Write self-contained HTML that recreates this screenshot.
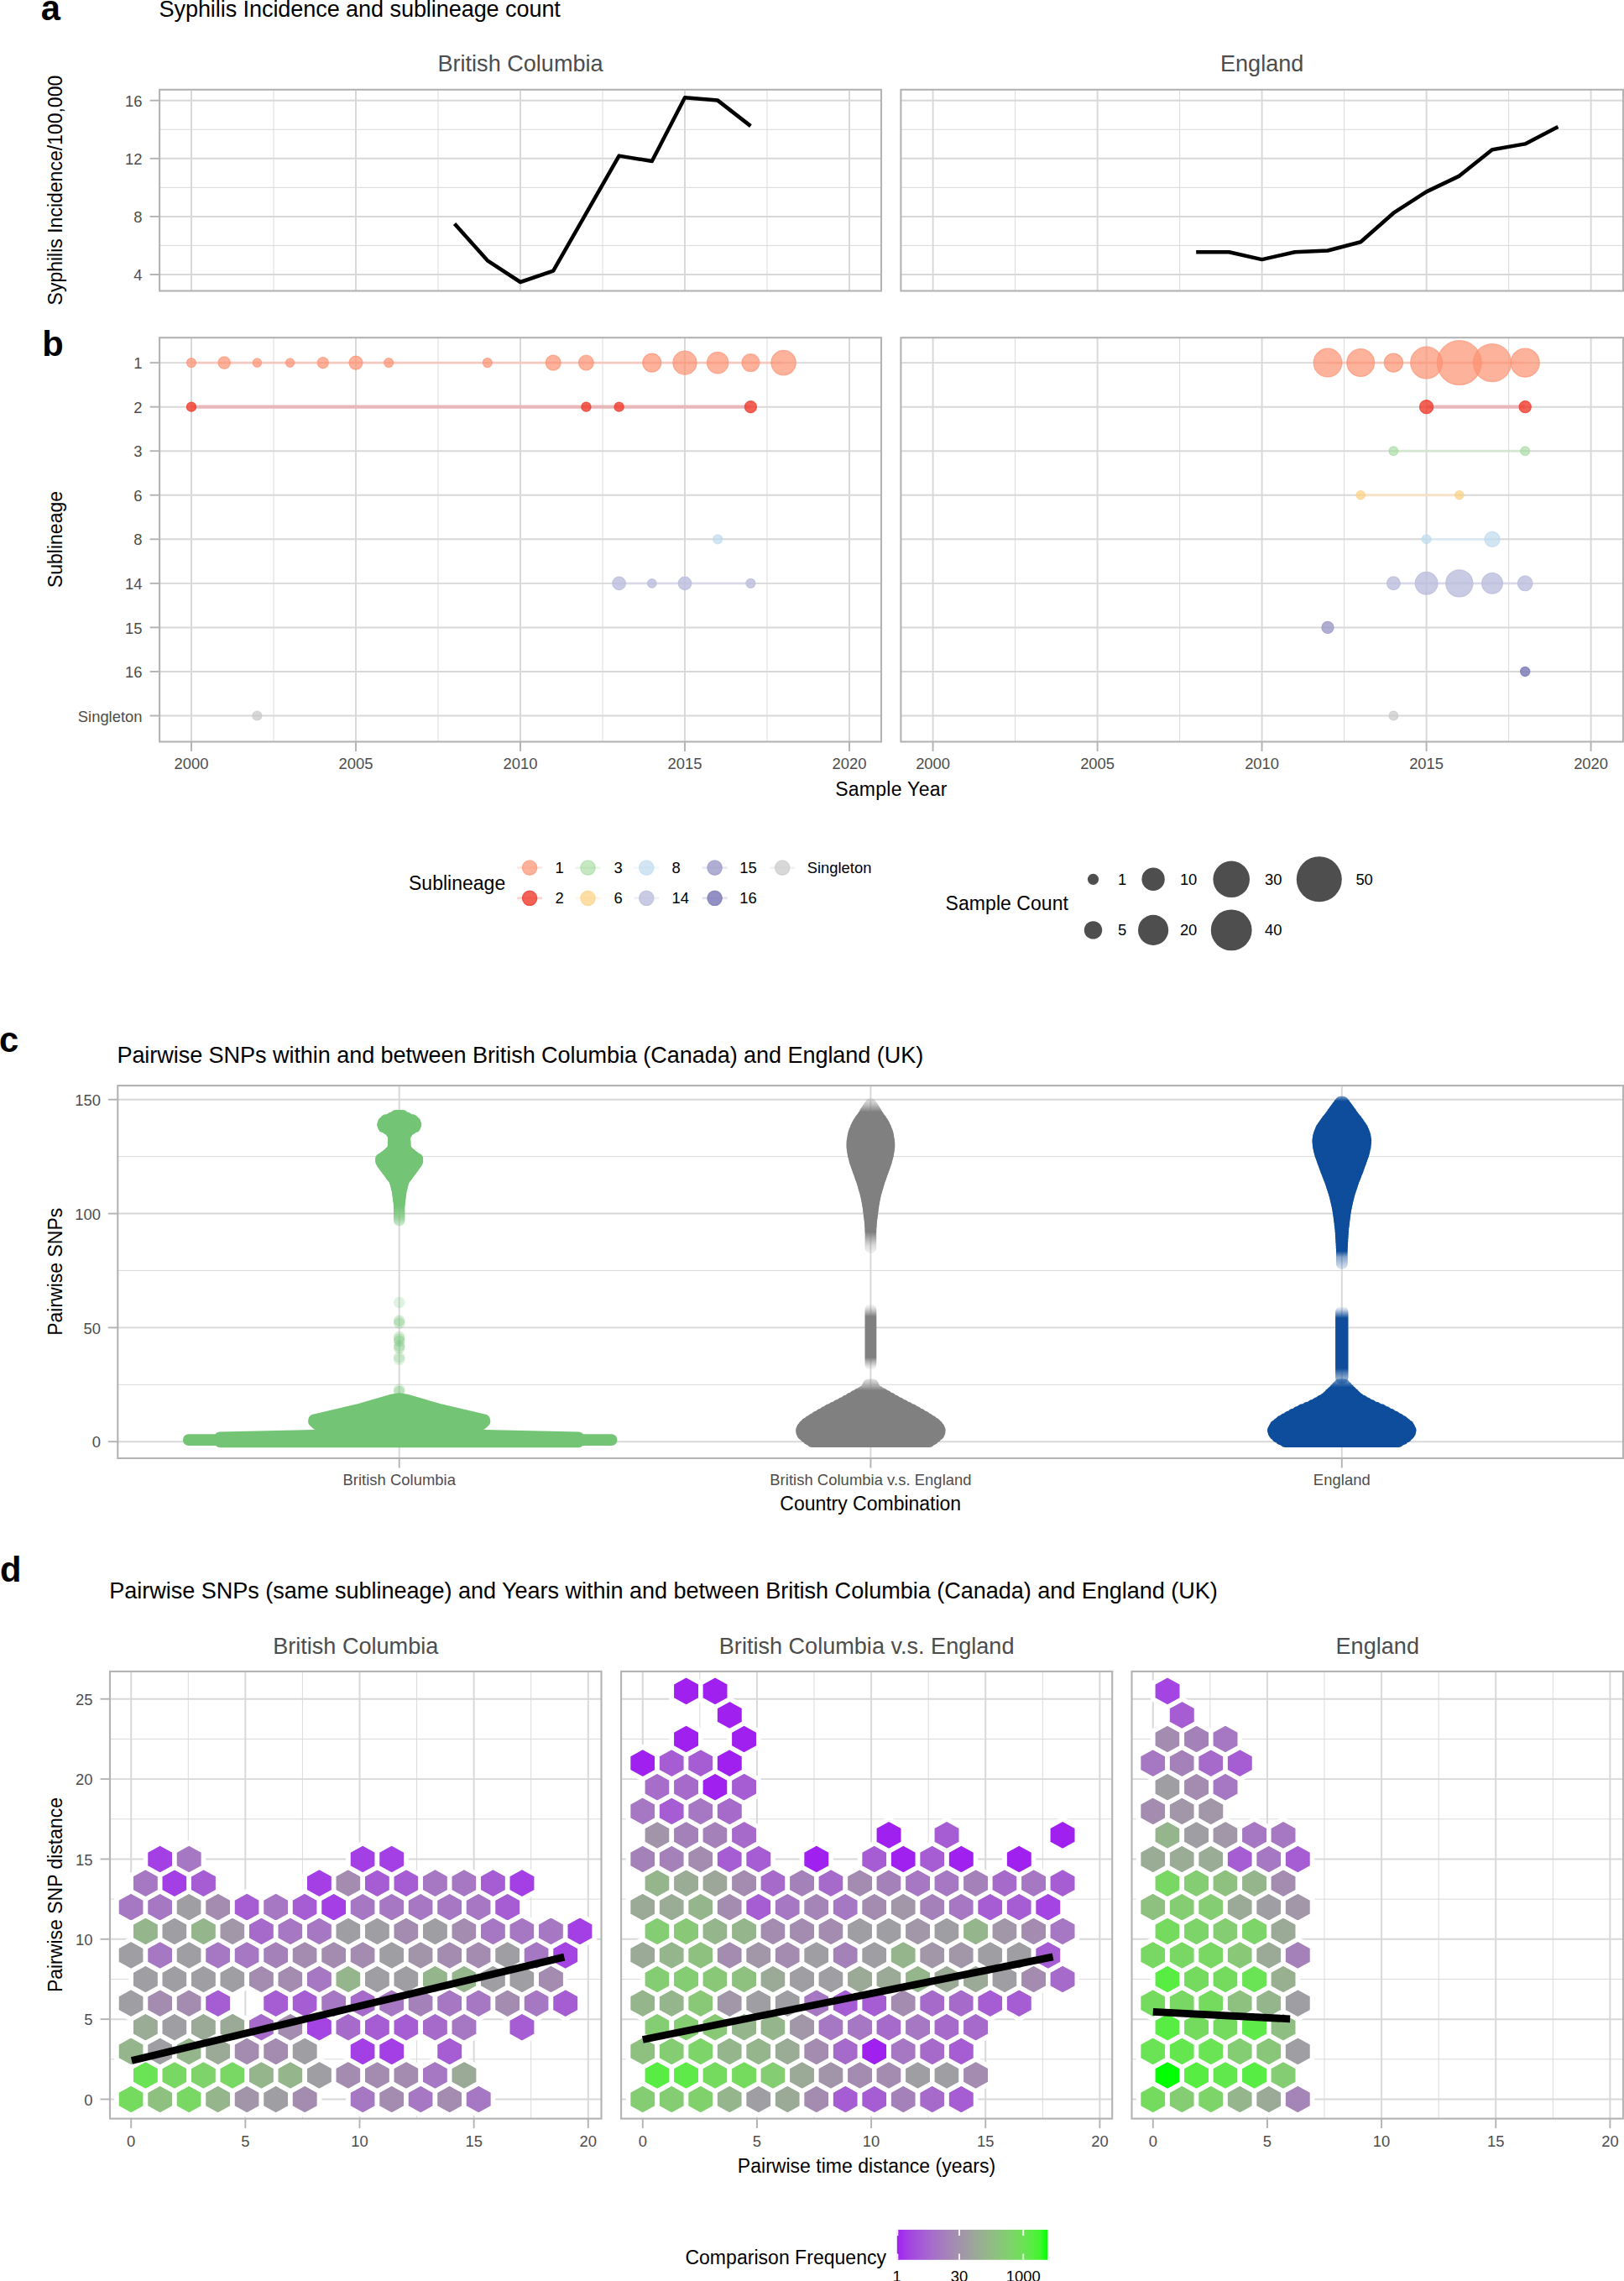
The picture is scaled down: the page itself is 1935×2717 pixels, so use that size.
<!DOCTYPE html>
<html lang="en"><head><meta charset="utf-8"><title>Syphilis sublineages figure</title>
<style>html,body{margin:0;padding:0;background:#fff}svg{display:block}</style></head>
<body>
<svg width="1935" height="2717" viewBox="0 0 1935 2717" font-family="Liberation Sans, Arial, sans-serif">
<rect width="1935" height="2717" fill="#fff"/>
<text x="48.7" y="23.7" font-size="41.67" fill="#000" font-weight="bold">a</text>
<text x="189.5" y="19.6" font-size="27.08" fill="#000" textLength="478.4" lengthAdjust="spacing">Syphilis Incidence and sublineage count</text>
<text x="620.05" y="85" font-size="27.08" fill="#4d4d4d" text-anchor="middle">British Columbia</text>
<text x="1503.7" y="85" font-size="27.08" fill="#4d4d4d" text-anchor="middle">England</text>
<line x1="326" y1="106.8" x2="326" y2="346.5" stroke="#d8d8d8" stroke-width="0.95"/>
<line x1="522" y1="106.8" x2="522" y2="346.5" stroke="#d8d8d8" stroke-width="0.95"/>
<line x1="718" y1="106.8" x2="718" y2="346.5" stroke="#d8d8d8" stroke-width="0.95"/>
<line x1="914" y1="106.8" x2="914" y2="346.5" stroke="#d8d8d8" stroke-width="0.95"/>
<line x1="190.1" y1="292.45" x2="1050" y2="292.45" stroke="#d8d8d8" stroke-width="0.95"/>
<line x1="190.1" y1="223.35" x2="1050" y2="223.35" stroke="#d8d8d8" stroke-width="0.95"/>
<line x1="190.1" y1="154.25" x2="1050" y2="154.25" stroke="#d8d8d8" stroke-width="0.95"/>
<line x1="228" y1="106.8" x2="228" y2="346.5" stroke="#d8d8d8" stroke-width="1.95"/>
<line x1="424" y1="106.8" x2="424" y2="346.5" stroke="#d8d8d8" stroke-width="1.95"/>
<line x1="620" y1="106.8" x2="620" y2="346.5" stroke="#d8d8d8" stroke-width="1.95"/>
<line x1="816" y1="106.8" x2="816" y2="346.5" stroke="#d8d8d8" stroke-width="1.95"/>
<line x1="1012" y1="106.8" x2="1012" y2="346.5" stroke="#d8d8d8" stroke-width="1.95"/>
<line x1="190.1" y1="327" x2="1050" y2="327" stroke="#d8d8d8" stroke-width="1.95"/>
<line x1="190.1" y1="257.9" x2="1050" y2="257.9" stroke="#d8d8d8" stroke-width="1.95"/>
<line x1="190.1" y1="188.8" x2="1050" y2="188.8" stroke="#d8d8d8" stroke-width="1.95"/>
<line x1="190.1" y1="119.7" x2="1050" y2="119.7" stroke="#d8d8d8" stroke-width="1.95"/>
<polyline points="541.6,266.5 580.8,310.3 620,336 659.2,322.7 698.4,254.2 737.6,185.6 776.8,192 816,116.3 855.2,119.6 894.4,150.1" fill="none" stroke="#000" stroke-width="4.5" stroke-linejoin="round"/>
<rect x="190.1" y="106.8" width="859.9" height="239.7" fill="none" stroke="#b3b3b3" stroke-width="2.1"/>
<line x1="1209.6" y1="106.8" x2="1209.6" y2="346.5" stroke="#d8d8d8" stroke-width="0.95"/>
<line x1="1405.6" y1="106.8" x2="1405.6" y2="346.5" stroke="#d8d8d8" stroke-width="0.95"/>
<line x1="1601.6" y1="106.8" x2="1601.6" y2="346.5" stroke="#d8d8d8" stroke-width="0.95"/>
<line x1="1797.6" y1="106.8" x2="1797.6" y2="346.5" stroke="#d8d8d8" stroke-width="0.95"/>
<line x1="1073.4" y1="292.45" x2="1934" y2="292.45" stroke="#d8d8d8" stroke-width="0.95"/>
<line x1="1073.4" y1="223.35" x2="1934" y2="223.35" stroke="#d8d8d8" stroke-width="0.95"/>
<line x1="1073.4" y1="154.25" x2="1934" y2="154.25" stroke="#d8d8d8" stroke-width="0.95"/>
<line x1="1111.6" y1="106.8" x2="1111.6" y2="346.5" stroke="#d8d8d8" stroke-width="1.95"/>
<line x1="1307.6" y1="106.8" x2="1307.6" y2="346.5" stroke="#d8d8d8" stroke-width="1.95"/>
<line x1="1503.6" y1="106.8" x2="1503.6" y2="346.5" stroke="#d8d8d8" stroke-width="1.95"/>
<line x1="1699.6" y1="106.8" x2="1699.6" y2="346.5" stroke="#d8d8d8" stroke-width="1.95"/>
<line x1="1895.6" y1="106.8" x2="1895.6" y2="346.5" stroke="#d8d8d8" stroke-width="1.95"/>
<line x1="1073.4" y1="327" x2="1934" y2="327" stroke="#d8d8d8" stroke-width="1.95"/>
<line x1="1073.4" y1="257.9" x2="1934" y2="257.9" stroke="#d8d8d8" stroke-width="1.95"/>
<line x1="1073.4" y1="188.8" x2="1934" y2="188.8" stroke="#d8d8d8" stroke-width="1.95"/>
<line x1="1073.4" y1="119.7" x2="1934" y2="119.7" stroke="#d8d8d8" stroke-width="1.95"/>
<polyline points="1425.2,300.2 1464.4,300.2 1503.6,309.1 1542.8,300.2 1582,298.5 1621.2,288.3 1660.4,253.7 1699.6,228.4 1738.8,209.6 1778,178.3 1817.2,171.4 1856.4,150.9" fill="none" stroke="#000" stroke-width="4.5" stroke-linejoin="round"/>
<rect x="1073.4" y="106.8" width="860.6" height="239.7" fill="none" stroke="#b3b3b3" stroke-width="2.1"/>
<line x1="178.6" y1="327" x2="190.1" y2="327" stroke="#b3b3b3" stroke-width="1.9"/>
<text x="169.5" y="334.19" font-size="18.4" fill="#4d4d4d" text-anchor="end">4</text>
<line x1="178.6" y1="257.9" x2="190.1" y2="257.9" stroke="#b3b3b3" stroke-width="1.9"/>
<text x="169.5" y="265.09" font-size="18.4" fill="#4d4d4d" text-anchor="end">8</text>
<line x1="178.6" y1="188.8" x2="190.1" y2="188.8" stroke="#b3b3b3" stroke-width="1.9"/>
<text x="169.5" y="195.99" font-size="18.4" fill="#4d4d4d" text-anchor="end">12</text>
<line x1="178.6" y1="119.7" x2="190.1" y2="119.7" stroke="#b3b3b3" stroke-width="1.9"/>
<text x="169.5" y="126.89" font-size="18.4" fill="#4d4d4d" text-anchor="end">16</text>
<text x="74.2" y="226.6" font-size="23.0" fill="#000" text-anchor="middle" transform="rotate(-90 74.2 226.6)">Syphilis Incidence/100,000</text>
<text x="50.3" y="423.6" font-size="41.67" fill="#000" font-weight="bold">b</text>
<line x1="326" y1="402.2" x2="326" y2="883.5" stroke="#d8d8d8" stroke-width="0.95"/>
<line x1="522" y1="402.2" x2="522" y2="883.5" stroke="#d8d8d8" stroke-width="0.95"/>
<line x1="718" y1="402.2" x2="718" y2="883.5" stroke="#d8d8d8" stroke-width="0.95"/>
<line x1="914" y1="402.2" x2="914" y2="883.5" stroke="#d8d8d8" stroke-width="0.95"/>
<line x1="228" y1="402.2" x2="228" y2="883.5" stroke="#d8d8d8" stroke-width="1.95"/>
<line x1="424" y1="402.2" x2="424" y2="883.5" stroke="#d8d8d8" stroke-width="1.95"/>
<line x1="620" y1="402.2" x2="620" y2="883.5" stroke="#d8d8d8" stroke-width="1.95"/>
<line x1="816" y1="402.2" x2="816" y2="883.5" stroke="#d8d8d8" stroke-width="1.95"/>
<line x1="1012" y1="402.2" x2="1012" y2="883.5" stroke="#d8d8d8" stroke-width="1.95"/>
<line x1="190.1" y1="432.1" x2="1050" y2="432.1" stroke="#d8d8d8" stroke-width="1.95"/>
<line x1="190.1" y1="484.65" x2="1050" y2="484.65" stroke="#d8d8d8" stroke-width="1.95"/>
<line x1="190.1" y1="537.2" x2="1050" y2="537.2" stroke="#d8d8d8" stroke-width="1.95"/>
<line x1="190.1" y1="589.75" x2="1050" y2="589.75" stroke="#d8d8d8" stroke-width="1.95"/>
<line x1="190.1" y1="642.3" x2="1050" y2="642.3" stroke="#d8d8d8" stroke-width="1.95"/>
<line x1="190.1" y1="694.85" x2="1050" y2="694.85" stroke="#d8d8d8" stroke-width="1.95"/>
<line x1="190.1" y1="747.4" x2="1050" y2="747.4" stroke="#d8d8d8" stroke-width="1.95"/>
<line x1="190.1" y1="799.95" x2="1050" y2="799.95" stroke="#d8d8d8" stroke-width="1.95"/>
<line x1="190.1" y1="852.5" x2="1050" y2="852.5" stroke="#d8d8d8" stroke-width="1.95"/>
<line x1="228" y1="432.1" x2="933.6" y2="432.1" stroke="#f8c4b8" stroke-width="2.7" stroke-opacity="0.88"/>
<line x1="228" y1="484.65" x2="894.4" y2="484.65" stroke="#e8b0b3" stroke-width="4.3" stroke-opacity="0.88"/>
<line x1="737.6" y1="694.85" x2="894.4" y2="694.85" stroke="#d7d7eb" stroke-width="2.8" stroke-opacity="0.88"/>
<circle cx="228" cy="432.1" r="5.5" fill="#fc9272" fill-opacity="0.7" stroke="#fc9272" stroke-opacity="0.7" stroke-width="1.2"/>
<circle cx="267.2" cy="432.1" r="7.2" fill="#fc9272" fill-opacity="0.7" stroke="#fc9272" stroke-opacity="0.7" stroke-width="1.2"/>
<circle cx="306.4" cy="432.1" r="5.2" fill="#fc9272" fill-opacity="0.7" stroke="#fc9272" stroke-opacity="0.7" stroke-width="1.2"/>
<circle cx="345.6" cy="432.1" r="5.2" fill="#fc9272" fill-opacity="0.7" stroke="#fc9272" stroke-opacity="0.7" stroke-width="1.2"/>
<circle cx="384.8" cy="432.1" r="6.6" fill="#fc9272" fill-opacity="0.7" stroke="#fc9272" stroke-opacity="0.7" stroke-width="1.2"/>
<circle cx="424" cy="432.1" r="8" fill="#fc9272" fill-opacity="0.7" stroke="#fc9272" stroke-opacity="0.7" stroke-width="1.2"/>
<circle cx="463.2" cy="432.1" r="5.5" fill="#fc9272" fill-opacity="0.7" stroke="#fc9272" stroke-opacity="0.7" stroke-width="1.2"/>
<circle cx="580.8" cy="432.1" r="5.5" fill="#fc9272" fill-opacity="0.7" stroke="#fc9272" stroke-opacity="0.7" stroke-width="1.2"/>
<circle cx="659.2" cy="432.1" r="9" fill="#fc9272" fill-opacity="0.7" stroke="#fc9272" stroke-opacity="0.7" stroke-width="1.2"/>
<circle cx="698.4" cy="432.1" r="8.9" fill="#fc9272" fill-opacity="0.7" stroke="#fc9272" stroke-opacity="0.7" stroke-width="1.2"/>
<circle cx="776.8" cy="432.1" r="11" fill="#fc9272" fill-opacity="0.7" stroke="#fc9272" stroke-opacity="0.7" stroke-width="1.2"/>
<circle cx="816" cy="432.1" r="14.1" fill="#fc9272" fill-opacity="0.7" stroke="#fc9272" stroke-opacity="0.7" stroke-width="1.2"/>
<circle cx="855.2" cy="432.1" r="12.7" fill="#fc9272" fill-opacity="0.7" stroke="#fc9272" stroke-opacity="0.7" stroke-width="1.2"/>
<circle cx="894.4" cy="432.1" r="10.4" fill="#fc9272" fill-opacity="0.7" stroke="#fc9272" stroke-opacity="0.7" stroke-width="1.2"/>
<circle cx="933.6" cy="432.1" r="14.7" fill="#fc9272" fill-opacity="0.7" stroke="#fc9272" stroke-opacity="0.7" stroke-width="1.2"/>
<circle cx="228" cy="484.65" r="5.6" fill="#ef3b2c" fill-opacity="0.8" stroke="#ef3b2c" stroke-opacity="0.8" stroke-width="1.2"/>
<circle cx="698.4" cy="484.65" r="5.6" fill="#ef3b2c" fill-opacity="0.8" stroke="#ef3b2c" stroke-opacity="0.8" stroke-width="1.2"/>
<circle cx="737.6" cy="484.65" r="5.6" fill="#ef3b2c" fill-opacity="0.8" stroke="#ef3b2c" stroke-opacity="0.8" stroke-width="1.2"/>
<circle cx="894.4" cy="484.65" r="7" fill="#ef3b2c" fill-opacity="0.8" stroke="#ef3b2c" stroke-opacity="0.8" stroke-width="1.2"/>
<circle cx="855.2" cy="642.3" r="5.5" fill="#bddaee" fill-opacity="0.7" stroke="#bddaee" stroke-opacity="0.7" stroke-width="1.2"/>
<circle cx="737.6" cy="694.85" r="7.8" fill="#bcbddc" fill-opacity="0.8" stroke="#bcbddc" stroke-opacity="0.8" stroke-width="1.2"/>
<circle cx="776.8" cy="694.85" r="5.3" fill="#bcbddc" fill-opacity="0.8" stroke="#bcbddc" stroke-opacity="0.8" stroke-width="1.2"/>
<circle cx="816" cy="694.85" r="7.8" fill="#bcbddc" fill-opacity="0.8" stroke="#bcbddc" stroke-opacity="0.8" stroke-width="1.2"/>
<circle cx="894.4" cy="694.85" r="5.5" fill="#bcbddc" fill-opacity="0.8" stroke="#bcbddc" stroke-opacity="0.8" stroke-width="1.2"/>
<circle cx="306.4" cy="852.5" r="5.5" fill="#c8c8c8" fill-opacity="0.7" stroke="#c8c8c8" stroke-opacity="0.7" stroke-width="1.2"/>
<rect x="190.1" y="402.2" width="859.9" height="481.3" fill="none" stroke="#b3b3b3" stroke-width="2.1"/>
<line x1="228" y1="883.5" x2="228" y2="895" stroke="#b3b3b3" stroke-width="1.9"/>
<text x="228" y="915.8" font-size="18.4" fill="#4d4d4d" text-anchor="middle">2000</text>
<line x1="424" y1="883.5" x2="424" y2="895" stroke="#b3b3b3" stroke-width="1.9"/>
<text x="424" y="915.8" font-size="18.4" fill="#4d4d4d" text-anchor="middle">2005</text>
<line x1="620" y1="883.5" x2="620" y2="895" stroke="#b3b3b3" stroke-width="1.9"/>
<text x="620" y="915.8" font-size="18.4" fill="#4d4d4d" text-anchor="middle">2010</text>
<line x1="816" y1="883.5" x2="816" y2="895" stroke="#b3b3b3" stroke-width="1.9"/>
<text x="816" y="915.8" font-size="18.4" fill="#4d4d4d" text-anchor="middle">2015</text>
<line x1="1012" y1="883.5" x2="1012" y2="895" stroke="#b3b3b3" stroke-width="1.9"/>
<text x="1012" y="915.8" font-size="18.4" fill="#4d4d4d" text-anchor="middle">2020</text>
<line x1="1209.6" y1="402.2" x2="1209.6" y2="883.5" stroke="#d8d8d8" stroke-width="0.95"/>
<line x1="1405.6" y1="402.2" x2="1405.6" y2="883.5" stroke="#d8d8d8" stroke-width="0.95"/>
<line x1="1601.6" y1="402.2" x2="1601.6" y2="883.5" stroke="#d8d8d8" stroke-width="0.95"/>
<line x1="1797.6" y1="402.2" x2="1797.6" y2="883.5" stroke="#d8d8d8" stroke-width="0.95"/>
<line x1="1111.6" y1="402.2" x2="1111.6" y2="883.5" stroke="#d8d8d8" stroke-width="1.95"/>
<line x1="1307.6" y1="402.2" x2="1307.6" y2="883.5" stroke="#d8d8d8" stroke-width="1.95"/>
<line x1="1503.6" y1="402.2" x2="1503.6" y2="883.5" stroke="#d8d8d8" stroke-width="1.95"/>
<line x1="1699.6" y1="402.2" x2="1699.6" y2="883.5" stroke="#d8d8d8" stroke-width="1.95"/>
<line x1="1895.6" y1="402.2" x2="1895.6" y2="883.5" stroke="#d8d8d8" stroke-width="1.95"/>
<line x1="1073.4" y1="432.1" x2="1934" y2="432.1" stroke="#d8d8d8" stroke-width="1.95"/>
<line x1="1073.4" y1="484.65" x2="1934" y2="484.65" stroke="#d8d8d8" stroke-width="1.95"/>
<line x1="1073.4" y1="537.2" x2="1934" y2="537.2" stroke="#d8d8d8" stroke-width="1.95"/>
<line x1="1073.4" y1="589.75" x2="1934" y2="589.75" stroke="#d8d8d8" stroke-width="1.95"/>
<line x1="1073.4" y1="642.3" x2="1934" y2="642.3" stroke="#d8d8d8" stroke-width="1.95"/>
<line x1="1073.4" y1="694.85" x2="1934" y2="694.85" stroke="#d8d8d8" stroke-width="1.95"/>
<line x1="1073.4" y1="747.4" x2="1934" y2="747.4" stroke="#d8d8d8" stroke-width="1.95"/>
<line x1="1073.4" y1="799.95" x2="1934" y2="799.95" stroke="#d8d8d8" stroke-width="1.95"/>
<line x1="1073.4" y1="852.5" x2="1934" y2="852.5" stroke="#d8d8d8" stroke-width="1.95"/>
<line x1="1582" y1="432.1" x2="1817.2" y2="432.1" stroke="#f8c4b8" stroke-width="2.7" stroke-opacity="0.88"/>
<line x1="1699.6" y1="484.65" x2="1817.2" y2="484.65" stroke="#e8b0b3" stroke-width="4.3" stroke-opacity="0.88"/>
<line x1="1660.4" y1="537.2" x2="1817.2" y2="537.2" stroke="#d0e8cc" stroke-width="2.8" stroke-opacity="0.88"/>
<line x1="1621.2" y1="589.75" x2="1738.8" y2="589.75" stroke="#f6e2c4" stroke-width="2.8" stroke-opacity="0.88"/>
<line x1="1699.6" y1="642.3" x2="1778" y2="642.3" stroke="#d9e8f4" stroke-width="2.8" stroke-opacity="0.88"/>
<line x1="1660.4" y1="694.85" x2="1817.2" y2="694.85" stroke="#d7d7eb" stroke-width="2.8" stroke-opacity="0.88"/>
<circle cx="1582" cy="432.1" r="16.9" fill="#fc9272" fill-opacity="0.7" stroke="#fc9272" stroke-opacity="0.7" stroke-width="1.2"/>
<circle cx="1621.2" cy="432.1" r="16.4" fill="#fc9272" fill-opacity="0.7" stroke="#fc9272" stroke-opacity="0.7" stroke-width="1.2"/>
<circle cx="1660.4" cy="432.1" r="11.1" fill="#fc9272" fill-opacity="0.7" stroke="#fc9272" stroke-opacity="0.7" stroke-width="1.2"/>
<circle cx="1699.6" cy="432.1" r="18.9" fill="#fc9272" fill-opacity="0.7" stroke="#fc9272" stroke-opacity="0.7" stroke-width="1.2"/>
<circle cx="1738.8" cy="432.1" r="26.4" fill="#fc9272" fill-opacity="0.7" stroke="#fc9272" stroke-opacity="0.7" stroke-width="1.2"/>
<circle cx="1778" cy="432.1" r="22.6" fill="#fc9272" fill-opacity="0.7" stroke="#fc9272" stroke-opacity="0.7" stroke-width="1.2"/>
<circle cx="1817.2" cy="432.1" r="17.1" fill="#fc9272" fill-opacity="0.7" stroke="#fc9272" stroke-opacity="0.7" stroke-width="1.2"/>
<circle cx="1699.6" cy="484.65" r="8.1" fill="#ef3b2c" fill-opacity="0.8" stroke="#ef3b2c" stroke-opacity="0.8" stroke-width="1.2"/>
<circle cx="1817.2" cy="484.65" r="7.1" fill="#ef3b2c" fill-opacity="0.8" stroke="#ef3b2c" stroke-opacity="0.8" stroke-width="1.2"/>
<circle cx="1660.4" cy="537.2" r="5.4" fill="#a1d99b" fill-opacity="0.62" stroke="#a1d99b" stroke-opacity="0.62" stroke-width="1.2"/>
<circle cx="1817.2" cy="537.2" r="5.4" fill="#a1d99b" fill-opacity="0.62" stroke="#a1d99b" stroke-opacity="0.62" stroke-width="1.2"/>
<circle cx="1621.2" cy="589.75" r="5.2" fill="#fdd082" fill-opacity="0.7" stroke="#fdd082" stroke-opacity="0.7" stroke-width="1.2"/>
<circle cx="1738.8" cy="589.75" r="5.2" fill="#fdd082" fill-opacity="0.7" stroke="#fdd082" stroke-opacity="0.7" stroke-width="1.2"/>
<circle cx="1699.6" cy="642.3" r="5.4" fill="#bddaee" fill-opacity="0.7" stroke="#bddaee" stroke-opacity="0.7" stroke-width="1.2"/>
<circle cx="1778" cy="642.3" r="9.1" fill="#bddaee" fill-opacity="0.7" stroke="#bddaee" stroke-opacity="0.7" stroke-width="1.2"/>
<circle cx="1660.4" cy="694.85" r="7.9" fill="#bcbddc" fill-opacity="0.8" stroke="#bcbddc" stroke-opacity="0.8" stroke-width="1.2"/>
<circle cx="1699.6" cy="694.85" r="13.4" fill="#bcbddc" fill-opacity="0.8" stroke="#bcbddc" stroke-opacity="0.8" stroke-width="1.2"/>
<circle cx="1738.8" cy="694.85" r="16.1" fill="#bcbddc" fill-opacity="0.8" stroke="#bcbddc" stroke-opacity="0.8" stroke-width="1.2"/>
<circle cx="1778" cy="694.85" r="12.4" fill="#bcbddc" fill-opacity="0.8" stroke="#bcbddc" stroke-opacity="0.8" stroke-width="1.2"/>
<circle cx="1817.2" cy="694.85" r="8.9" fill="#bcbddc" fill-opacity="0.8" stroke="#bcbddc" stroke-opacity="0.8" stroke-width="1.2"/>
<circle cx="1582" cy="747.4" r="7.1" fill="#9e9ac8" fill-opacity="0.8" stroke="#9e9ac8" stroke-opacity="0.8" stroke-width="1.2"/>
<circle cx="1817.2" cy="799.95" r="5.6" fill="#807dba" fill-opacity="0.85" stroke="#807dba" stroke-opacity="0.85" stroke-width="1.2"/>
<circle cx="1660.4" cy="852.5" r="5.4" fill="#c8c8c8" fill-opacity="0.7" stroke="#c8c8c8" stroke-opacity="0.7" stroke-width="1.2"/>
<rect x="1073.4" y="402.2" width="860.6" height="481.3" fill="none" stroke="#b3b3b3" stroke-width="2.1"/>
<line x1="1111.6" y1="883.5" x2="1111.6" y2="895" stroke="#b3b3b3" stroke-width="1.9"/>
<text x="1111.6" y="915.8" font-size="18.4" fill="#4d4d4d" text-anchor="middle">2000</text>
<line x1="1307.6" y1="883.5" x2="1307.6" y2="895" stroke="#b3b3b3" stroke-width="1.9"/>
<text x="1307.6" y="915.8" font-size="18.4" fill="#4d4d4d" text-anchor="middle">2005</text>
<line x1="1503.6" y1="883.5" x2="1503.6" y2="895" stroke="#b3b3b3" stroke-width="1.9"/>
<text x="1503.6" y="915.8" font-size="18.4" fill="#4d4d4d" text-anchor="middle">2010</text>
<line x1="1699.6" y1="883.5" x2="1699.6" y2="895" stroke="#b3b3b3" stroke-width="1.9"/>
<text x="1699.6" y="915.8" font-size="18.4" fill="#4d4d4d" text-anchor="middle">2015</text>
<line x1="1895.6" y1="883.5" x2="1895.6" y2="895" stroke="#b3b3b3" stroke-width="1.9"/>
<text x="1895.6" y="915.8" font-size="18.4" fill="#4d4d4d" text-anchor="middle">2020</text>
<line x1="178.6" y1="432.1" x2="190.1" y2="432.1" stroke="#b3b3b3" stroke-width="1.9"/>
<text x="169.5" y="439.29" font-size="18.4" fill="#4d4d4d" text-anchor="end">1</text>
<line x1="178.6" y1="484.65" x2="190.1" y2="484.65" stroke="#b3b3b3" stroke-width="1.9"/>
<text x="169.5" y="491.84" font-size="18.4" fill="#4d4d4d" text-anchor="end">2</text>
<line x1="178.6" y1="537.2" x2="190.1" y2="537.2" stroke="#b3b3b3" stroke-width="1.9"/>
<text x="169.5" y="544.39" font-size="18.4" fill="#4d4d4d" text-anchor="end">3</text>
<line x1="178.6" y1="589.75" x2="190.1" y2="589.75" stroke="#b3b3b3" stroke-width="1.9"/>
<text x="169.5" y="596.94" font-size="18.4" fill="#4d4d4d" text-anchor="end">6</text>
<line x1="178.6" y1="642.3" x2="190.1" y2="642.3" stroke="#b3b3b3" stroke-width="1.9"/>
<text x="169.5" y="649.49" font-size="18.4" fill="#4d4d4d" text-anchor="end">8</text>
<line x1="178.6" y1="694.85" x2="190.1" y2="694.85" stroke="#b3b3b3" stroke-width="1.9"/>
<text x="169.5" y="702.04" font-size="18.4" fill="#4d4d4d" text-anchor="end">14</text>
<line x1="178.6" y1="747.4" x2="190.1" y2="747.4" stroke="#b3b3b3" stroke-width="1.9"/>
<text x="169.5" y="754.59" font-size="18.4" fill="#4d4d4d" text-anchor="end">15</text>
<line x1="178.6" y1="799.95" x2="190.1" y2="799.95" stroke="#b3b3b3" stroke-width="1.9"/>
<text x="169.5" y="807.14" font-size="18.4" fill="#4d4d4d" text-anchor="end">16</text>
<line x1="178.6" y1="852.5" x2="190.1" y2="852.5" stroke="#b3b3b3" stroke-width="1.9"/>
<text x="169.5" y="859.69" font-size="18.4" fill="#4d4d4d" text-anchor="end">Singleton</text>
<text x="74.3" y="642.5" font-size="23.0" fill="#000" text-anchor="middle" transform="rotate(-90 74.3 642.5)">Sublineage</text>
<text x="1061.8" y="947.9" font-size="23.0" fill="#000" textLength="133.3" lengthAdjust="spacing" text-anchor="middle">Sample Year</text>
<text x="487" y="1059.7" font-size="23.0" fill="#000" textLength="115.2" lengthAdjust="spacing">Sublineage</text>
<line x1="616.1" y1="1033.6" x2="646.1" y2="1033.6" stroke="#fc9272" stroke-width="2.8" stroke-opacity="0.22"/>
<circle cx="631.1" cy="1033.6" r="8.7" fill="#fc9272" fill-opacity="0.7" stroke="#fc9272" stroke-opacity="0.7" stroke-width="1.2"/>
<text x="661.4" y="1039.99" font-size="18.4" fill="#000">1</text>
<line x1="685.5" y1="1033.6" x2="715.5" y2="1033.6" stroke="#a1d99b" stroke-width="2.8" stroke-opacity="0.22"/>
<circle cx="700.5" cy="1033.6" r="8.7" fill="#a1d99b" fill-opacity="0.62" stroke="#a1d99b" stroke-opacity="0.62" stroke-width="1.2"/>
<text x="731.6" y="1039.99" font-size="18.4" fill="#000">3</text>
<line x1="755.3" y1="1033.6" x2="785.3" y2="1033.6" stroke="#bddaee" stroke-width="2.8" stroke-opacity="0.22"/>
<circle cx="770.3" cy="1033.6" r="8.7" fill="#bddaee" fill-opacity="0.7" stroke="#bddaee" stroke-opacity="0.7" stroke-width="1.2"/>
<text x="800.6" y="1039.99" font-size="18.4" fill="#000">8</text>
<line x1="836.6" y1="1033.6" x2="866.6" y2="1033.6" stroke="#9e9ac8" stroke-width="2.8" stroke-opacity="0.22"/>
<circle cx="851.6" cy="1033.6" r="8.7" fill="#9e9ac8" fill-opacity="0.8" stroke="#9e9ac8" stroke-opacity="0.8" stroke-width="1.2"/>
<text x="881.2" y="1039.99" font-size="18.4" fill="#000">15</text>
<line x1="917.2" y1="1033.6" x2="947.2" y2="1033.6" stroke="#c8c8c8" stroke-width="2.8" stroke-opacity="0.22"/>
<circle cx="932.2" cy="1033.6" r="8.7" fill="#c8c8c8" fill-opacity="0.7" stroke="#c8c8c8" stroke-opacity="0.7" stroke-width="1.2"/>
<text x="961.7" y="1039.99" font-size="18.4" fill="#000">Singleton</text>
<line x1="616.1" y1="1069.8" x2="646.1" y2="1069.8" stroke="#ef3b2c" stroke-width="2.8" stroke-opacity="0.22"/>
<circle cx="631.1" cy="1069.8" r="8.7" fill="#ef3b2c" fill-opacity="0.8" stroke="#ef3b2c" stroke-opacity="0.8" stroke-width="1.2"/>
<text x="661.4" y="1076.19" font-size="18.4" fill="#000">2</text>
<line x1="685.5" y1="1069.8" x2="715.5" y2="1069.8" stroke="#fdd082" stroke-width="2.8" stroke-opacity="0.22"/>
<circle cx="700.5" cy="1069.8" r="8.7" fill="#fdd082" fill-opacity="0.7" stroke="#fdd082" stroke-opacity="0.7" stroke-width="1.2"/>
<text x="731.6" y="1076.19" font-size="18.4" fill="#000">6</text>
<line x1="755.3" y1="1069.8" x2="785.3" y2="1069.8" stroke="#bcbddc" stroke-width="2.8" stroke-opacity="0.22"/>
<circle cx="770.3" cy="1069.8" r="8.7" fill="#bcbddc" fill-opacity="0.8" stroke="#bcbddc" stroke-opacity="0.8" stroke-width="1.2"/>
<text x="800.6" y="1076.19" font-size="18.4" fill="#000">14</text>
<line x1="836.6" y1="1069.8" x2="866.6" y2="1069.8" stroke="#807dba" stroke-width="2.8" stroke-opacity="0.22"/>
<circle cx="851.6" cy="1069.8" r="8.7" fill="#807dba" fill-opacity="0.85" stroke="#807dba" stroke-opacity="0.85" stroke-width="1.2"/>
<text x="881.2" y="1076.19" font-size="18.4" fill="#000">16</text>
<text x="1126.6" y="1084.4" font-size="23.0" fill="#000" textLength="146.3" lengthAdjust="spacing">Sample Count</text>
<circle cx="1302.5" cy="1047.3" r="6.6" fill="#4e4e4e"/>
<text x="1332" y="1053.69" font-size="18.4" fill="#000">1</text>
<circle cx="1374.1" cy="1047.3" r="13.7" fill="#4e4e4e"/>
<text x="1405.9" y="1053.69" font-size="18.4" fill="#000">10</text>
<circle cx="1467.2" cy="1047.3" r="21.8" fill="#4e4e4e"/>
<text x="1507.1" y="1053.69" font-size="18.4" fill="#000">30</text>
<circle cx="1571.8" cy="1047.3" r="27" fill="#4e4e4e"/>
<text x="1615.4" y="1053.69" font-size="18.4" fill="#000">50</text>
<circle cx="1302.5" cy="1107.9" r="10.7" fill="#4e4e4e"/>
<text x="1332" y="1114.29" font-size="18.4" fill="#000">5</text>
<circle cx="1374.1" cy="1107.9" r="18.1" fill="#4e4e4e"/>
<text x="1405.9" y="1114.29" font-size="18.4" fill="#000">20</text>
<circle cx="1467.2" cy="1107.9" r="24.4" fill="#4e4e4e"/>
<text x="1507.1" y="1114.29" font-size="18.4" fill="#000">40</text>
<text x="-0.9" y="1253.1" font-size="41.67" fill="#000" font-weight="bold">c</text>
<text x="139.4" y="1266" font-size="27.08" fill="#000" textLength="960.8" lengthAdjust="spacing">Pairwise SNPs within and between British Columbia (Canada) and England (UK)</text>
<line x1="140.3" y1="1649.29" x2="1934" y2="1649.29" stroke="#d8d8d8" stroke-width="0.95"/>
<line x1="140.3" y1="1513.46" x2="1934" y2="1513.46" stroke="#d8d8d8" stroke-width="0.95"/>
<line x1="140.3" y1="1377.64" x2="1934" y2="1377.64" stroke="#d8d8d8" stroke-width="0.95"/>
<line x1="475.7" y1="1293.1" x2="475.7" y2="1737" stroke="#d8d8d8" stroke-width="1.95"/>
<line x1="1037.4" y1="1293.1" x2="1037.4" y2="1737" stroke="#d8d8d8" stroke-width="1.95"/>
<line x1="1598.8" y1="1293.1" x2="1598.8" y2="1737" stroke="#d8d8d8" stroke-width="1.95"/>
<line x1="140.3" y1="1717.2" x2="1934" y2="1717.2" stroke="#d8d8d8" stroke-width="1.95"/>
<line x1="140.3" y1="1581.38" x2="1934" y2="1581.38" stroke="#d8d8d8" stroke-width="1.95"/>
<line x1="140.3" y1="1445.55" x2="1934" y2="1445.55" stroke="#d8d8d8" stroke-width="1.95"/>
<line x1="140.3" y1="1309.73" x2="1934" y2="1309.73" stroke="#d8d8d8" stroke-width="1.95"/>
<g>
<defs><linearGradient id="vm1g" gradientUnits="userSpaceOnUse" x1="0" y1="1424.55" x2="0" y2="1473.72">
<stop offset="0.0000" stop-color="#fff" stop-opacity="1.0"/>
<stop offset="0.2440" stop-color="#fff" stop-opacity="1.0"/>
<stop offset="0.5245" stop-color="#fff" stop-opacity="0.75"/>
<stop offset="0.7560" stop-color="#fff" stop-opacity="0.25"/>
<stop offset="1.0000" stop-color="#fff" stop-opacity="0.25"/>
</linearGradient><mask id="vm1" maskUnits="userSpaceOnUse" x="325.7" y="1293.1" width="300" height="443.9"><rect x="325.7" y="1293.1" width="300" height="443.9" fill="url(#vm1g)"/></mask></defs>
<g stroke="#74c476" stroke-width="13.6" stroke-linecap="round" mask="url(#vm1)">
<line x1="475.69" y1="1453.7" x2="475.7" y2="1453.7"/>
<line x1="475.69" y1="1450.98" x2="475.7" y2="1450.98"/>
<line x1="475.69" y1="1448.27" x2="475.7" y2="1448.27"/>
<line x1="475.69" y1="1445.55" x2="475.7" y2="1445.55"/>
<line x1="475.69" y1="1442.83" x2="475.7" y2="1442.83"/>
<line x1="475.69" y1="1440.12" x2="475.7" y2="1440.12"/>
<line x1="475.69" y1="1437.4" x2="475.7" y2="1437.4"/>
<line x1="475.57" y1="1434.68" x2="475.82" y2="1434.68"/>
<line x1="475.22" y1="1431.97" x2="476.17" y2="1431.97"/>
<line x1="474.87" y1="1429.25" x2="476.52" y2="1429.25"/>
<line x1="474.51" y1="1426.53" x2="476.88" y2="1426.53"/>
<line x1="474.16" y1="1423.82" x2="477.23" y2="1423.82"/>
<line x1="473.81" y1="1421.1" x2="477.58" y2="1421.1"/>
<line x1="473.45" y1="1418.38" x2="477.94" y2="1418.38"/>
<line x1="472.78" y1="1415.67" x2="478.61" y2="1415.67"/>
<line x1="472.06" y1="1412.95" x2="479.33" y2="1412.95"/>
<line x1="471.33" y1="1410.24" x2="480.06" y2="1410.24"/>
<line x1="470.61" y1="1407.52" x2="480.78" y2="1407.52"/>
<line x1="469.28" y1="1404.8" x2="482.11" y2="1404.8"/>
<line x1="467.24" y1="1402.09" x2="484.15" y2="1402.09"/>
<line x1="465.21" y1="1399.37" x2="486.18" y2="1399.37"/>
<line x1="463.17" y1="1396.65" x2="488.22" y2="1396.65"/>
<line x1="461.13" y1="1393.94" x2="490.26" y2="1393.94"/>
<line x1="459.1" y1="1391.22" x2="492.29" y2="1391.22"/>
<line x1="457.06" y1="1388.5" x2="494.33" y2="1388.5"/>
<line x1="455.02" y1="1385.79" x2="496.37" y2="1385.79"/>
<line x1="453.89" y1="1383.07" x2="497.5" y2="1383.07"/>
<line x1="453.97" y1="1380.35" x2="497.42" y2="1380.35"/>
<line x1="458.05" y1="1377.64" x2="493.34" y2="1377.64"/>
<line x1="461.58" y1="1374.92" x2="489.81" y2="1374.92"/>
<line x1="464.57" y1="1372.2" x2="486.82" y2="1372.2"/>
<line x1="467.12" y1="1369.49" x2="484.27" y2="1369.49"/>
<line x1="468.27" y1="1366.77" x2="483.12" y2="1366.77"/>
<line x1="468.49" y1="1364.06" x2="482.9" y2="1364.06"/>
<line x1="468.67" y1="1361.34" x2="482.72" y2="1361.34"/>
<line x1="468.85" y1="1358.62" x2="482.54" y2="1358.62"/>
<line x1="469.02" y1="1355.91" x2="482.37" y2="1355.91"/>
<line x1="468.59" y1="1353.19" x2="482.8" y2="1353.19"/>
<line x1="467.1" y1="1350.47" x2="484.29" y2="1350.47"/>
<line x1="465.32" y1="1347.76" x2="486.07" y2="1347.76"/>
<line x1="461.47" y1="1345.04" x2="489.92" y2="1345.04"/>
<line x1="456.97" y1="1342.32" x2="494.42" y2="1342.32"/>
<line x1="455.92" y1="1339.61" x2="495.47" y2="1339.61"/>
<line x1="456.84" y1="1336.89" x2="494.55" y2="1336.89"/>
<line x1="459.73" y1="1334.17" x2="491.66" y2="1334.17"/>
<line x1="466.33" y1="1331.46" x2="485.06" y2="1331.46"/>
<line x1="471.4" y1="1328.74" x2="479.99" y2="1328.74"/>
</g>
<circle cx="475.7" cy="1551.49" r="6.8" fill="#74c476" fill-opacity="0.22"/>
<circle cx="475.7" cy="1573.23" r="6.8" fill="#74c476" fill-opacity="0.3"/>
<circle cx="475.7" cy="1575.94" r="6.8" fill="#74c476" fill-opacity="0.3"/>
<circle cx="475.7" cy="1592.24" r="6.8" fill="#74c476" fill-opacity="0.25"/>
<circle cx="475.7" cy="1594.96" r="6.8" fill="#74c476" fill-opacity="0.3"/>
<circle cx="475.7" cy="1597.67" r="6.8" fill="#74c476" fill-opacity="0.3"/>
<circle cx="475.7" cy="1603.11" r="6.8" fill="#74c476" fill-opacity="0.3"/>
<circle cx="475.7" cy="1605.82" r="6.8" fill="#74c476" fill-opacity="0.3"/>
<circle cx="475.7" cy="1616.69" r="6.8" fill="#74c476" fill-opacity="0.25"/>
<circle cx="475.7" cy="1619.41" r="6.8" fill="#74c476" fill-opacity="0.2"/>
<circle cx="475.7" cy="1654.72" r="6.8" fill="#74c476" fill-opacity="0.2"/>
<circle cx="475.7" cy="1657.44" r="6.8" fill="#74c476" fill-opacity="0.35"/>
<polygon points="475.7,1666 465.7,1667.8 426.2,1679.2 374.2,1691.3 373.9,1693.2 377.7,1696.5 573.7,1696.5 577.5,1693.2 577.2,1691.3 525.2,1679.2 485.7,1667.8 475.7,1666" fill="#74c476" stroke="#74c476" stroke-width="13.6" stroke-linejoin="round"/>
<polygon points="385.7,1709.6 262.2,1712.2 262,1717.5 689.4,1717.5 689.2,1712.2 565.7,1709.6" fill="#74c476" stroke="#74c476" stroke-width="13.6" stroke-linejoin="round"/>
<rect x="377.7" y="1690" width="196" height="24" fill="#74c476"/>
<line x1="224.7" y1="1715.1" x2="728.7" y2="1715.1" stroke="#74c476" stroke-width="13.6" stroke-linecap="round"/>
<defs><linearGradient id="vm2g" gradientUnits="userSpaceOnUse" x1="0" y1="1295.24" x2="0" y2="1505.1">
<stop offset="0.0000" stop-color="#fff" stop-opacity="0.15"/>
<stop offset="0.0572" stop-color="#fff" stop-opacity="0.15"/>
<stop offset="0.0983" stop-color="#fff" stop-opacity="0.5"/>
<stop offset="0.1393" stop-color="#fff" stop-opacity="1.0"/>
<stop offset="0.8212" stop-color="#fff" stop-opacity="1.0"/>
<stop offset="0.8623" stop-color="#fff" stop-opacity="0.6"/>
<stop offset="0.8952" stop-color="#fff" stop-opacity="0.3"/>
<stop offset="0.9428" stop-color="#fff" stop-opacity="0.08"/>
<stop offset="1.0000" stop-color="#fff" stop-opacity="0.08"/>
</linearGradient><mask id="vm2" maskUnits="userSpaceOnUse" x="887.4" y="1293.1" width="300" height="443.9"><rect x="887.4" y="1293.1" width="300" height="443.9" fill="url(#vm2g)"/></mask></defs>
<g stroke="#808080" stroke-width="13.6" stroke-linecap="round" mask="url(#vm2)">
<line x1="1037.29" y1="1486.3" x2="1037.5" y2="1486.3"/>
<line x1="1037.29" y1="1483.58" x2="1037.5" y2="1483.58"/>
<line x1="1037.29" y1="1480.86" x2="1037.5" y2="1480.86"/>
<line x1="1037.29" y1="1478.15" x2="1037.5" y2="1478.15"/>
<line x1="1037.29" y1="1475.43" x2="1037.5" y2="1475.43"/>
<line x1="1037.29" y1="1472.72" x2="1037.5" y2="1472.72"/>
<line x1="1037.29" y1="1470" x2="1037.5" y2="1470"/>
<line x1="1037.29" y1="1467.28" x2="1037.5" y2="1467.28"/>
<line x1="1037.22" y1="1464.57" x2="1037.57" y2="1464.57"/>
<line x1="1037.04" y1="1461.85" x2="1037.75" y2="1461.85"/>
<line x1="1036.86" y1="1459.13" x2="1037.93" y2="1459.13"/>
<line x1="1036.68" y1="1456.42" x2="1038.11" y2="1456.42"/>
<line x1="1036.41" y1="1453.7" x2="1038.38" y2="1453.7"/>
<line x1="1036.05" y1="1450.98" x2="1038.74" y2="1450.98"/>
<line x1="1035.69" y1="1448.27" x2="1039.1" y2="1448.27"/>
<line x1="1035.33" y1="1445.55" x2="1039.46" y2="1445.55"/>
<line x1="1034.99" y1="1442.83" x2="1039.8" y2="1442.83"/>
<line x1="1034.66" y1="1440.12" x2="1040.13" y2="1440.12"/>
<line x1="1034.33" y1="1437.4" x2="1040.46" y2="1437.4"/>
<line x1="1033.94" y1="1434.68" x2="1040.85" y2="1434.68"/>
<line x1="1033.4" y1="1431.97" x2="1041.39" y2="1431.97"/>
<line x1="1032.86" y1="1429.25" x2="1041.93" y2="1429.25"/>
<line x1="1032.31" y1="1426.53" x2="1042.48" y2="1426.53"/>
<line x1="1031.77" y1="1423.82" x2="1043.02" y2="1423.82"/>
<line x1="1031.07" y1="1421.1" x2="1043.72" y2="1421.1"/>
<line x1="1030.29" y1="1418.38" x2="1044.5" y2="1418.38"/>
<line x1="1029.51" y1="1415.67" x2="1045.28" y2="1415.67"/>
<line x1="1028.72" y1="1412.95" x2="1046.07" y2="1412.95"/>
<line x1="1027.94" y1="1410.24" x2="1046.85" y2="1410.24"/>
<line x1="1027.09" y1="1407.52" x2="1047.7" y2="1407.52"/>
<line x1="1026.14" y1="1404.8" x2="1048.65" y2="1404.8"/>
<line x1="1025.19" y1="1402.09" x2="1049.6" y2="1402.09"/>
<line x1="1024.24" y1="1399.37" x2="1050.55" y2="1399.37"/>
<line x1="1023.29" y1="1396.65" x2="1051.5" y2="1396.65"/>
<line x1="1022.32" y1="1393.94" x2="1052.47" y2="1393.94"/>
<line x1="1021.33" y1="1391.22" x2="1053.46" y2="1391.22"/>
<line x1="1020.33" y1="1388.5" x2="1054.46" y2="1388.5"/>
<line x1="1019.34" y1="1385.79" x2="1055.45" y2="1385.79"/>
<line x1="1018.52" y1="1383.07" x2="1056.27" y2="1383.07"/>
<line x1="1017.84" y1="1380.35" x2="1056.95" y2="1380.35"/>
<line x1="1017.16" y1="1377.64" x2="1057.63" y2="1377.64"/>
<line x1="1016.48" y1="1374.92" x2="1058.31" y2="1374.92"/>
<line x1="1016.07" y1="1372.2" x2="1058.72" y2="1372.2"/>
<line x1="1015.67" y1="1369.49" x2="1059.12" y2="1369.49"/>
<line x1="1015.26" y1="1366.77" x2="1059.53" y2="1366.77"/>
<line x1="1015.15" y1="1364.06" x2="1059.64" y2="1364.06"/>
<line x1="1015.28" y1="1361.34" x2="1059.51" y2="1361.34"/>
<line x1="1015.55" y1="1358.62" x2="1059.24" y2="1358.62"/>
<line x1="1016.02" y1="1355.91" x2="1058.77" y2="1355.91"/>
<line x1="1016.48" y1="1353.19" x2="1058.31" y2="1353.19"/>
<line x1="1016.95" y1="1350.47" x2="1057.84" y2="1350.47"/>
<line x1="1017.7" y1="1347.76" x2="1057.09" y2="1347.76"/>
<line x1="1018.9" y1="1345.04" x2="1055.89" y2="1345.04"/>
<line x1="1020.1" y1="1342.32" x2="1054.69" y2="1342.32"/>
<line x1="1021.31" y1="1339.61" x2="1053.48" y2="1339.61"/>
<line x1="1022.81" y1="1336.89" x2="1051.98" y2="1336.89"/>
<line x1="1024.71" y1="1334.17" x2="1050.08" y2="1334.17"/>
<line x1="1026.61" y1="1331.46" x2="1048.18" y2="1331.46"/>
<line x1="1028.52" y1="1328.74" x2="1046.27" y2="1328.74"/>
<line x1="1030.22" y1="1326.02" x2="1044.57" y2="1326.02"/>
<line x1="1031.85" y1="1323.31" x2="1042.94" y2="1323.31"/>
<line x1="1033.48" y1="1320.59" x2="1041.31" y2="1320.59"/>
<line x1="1035.3" y1="1317.87" x2="1039.49" y2="1317.87"/>
<line x1="1037.39" y1="1315.16" x2="1037.4" y2="1315.16"/>
</g>
<defs><linearGradient id="vm3g" gradientUnits="userSpaceOnUse" x1="0" y1="1541" x2="0" y2="1644">
<stop offset="0.0000" stop-color="#fff" stop-opacity="0.0"/>
<stop offset="0.1165" stop-color="#fff" stop-opacity="0.0"/>
<stop offset="0.1650" stop-color="#fff" stop-opacity="0.25"/>
<stop offset="0.2136" stop-color="#fff" stop-opacity="0.6"/>
<stop offset="0.2621" stop-color="#fff" stop-opacity="1.0"/>
<stop offset="0.7379" stop-color="#fff" stop-opacity="1.0"/>
<stop offset="0.7864" stop-color="#fff" stop-opacity="0.6"/>
<stop offset="0.8350" stop-color="#fff" stop-opacity="0.25"/>
<stop offset="0.8835" stop-color="#fff" stop-opacity="0.0"/>
<stop offset="1.0000" stop-color="#fff" stop-opacity="0.0"/>
</linearGradient><mask id="vm3" maskUnits="userSpaceOnUse" x="887.4" y="1293.1" width="300" height="443.9"><rect x="887.4" y="1293.1" width="300" height="443.9" fill="url(#vm3g)"/></mask></defs>
<g stroke="#808080" stroke-width="13.6" stroke-linecap="round" mask="url(#vm3)">
<line x1="1037.4" y1="1560" x2="1037.4" y2="1625" stroke-width="13.799999999999999"/>
</g>
<defs><linearGradient id="vm4g" gradientUnits="userSpaceOnUse" x1="0" y1="1629.72" x2="0" y2="1736.66">
<stop offset="0.0000" stop-color="#fff" stop-opacity="0.2"/>
<stop offset="0.1122" stop-color="#fff" stop-opacity="0.2"/>
<stop offset="0.1896" stop-color="#fff" stop-opacity="0.6"/>
<stop offset="0.2460" stop-color="#fff" stop-opacity="1.0"/>
<stop offset="0.8878" stop-color="#fff" stop-opacity="1.0"/>
<stop offset="1.0000" stop-color="#fff" stop-opacity="1.0"/>
</linearGradient><mask id="vm4" maskUnits="userSpaceOnUse" x="887.4" y="1293.1" width="300" height="443.9"><rect x="887.4" y="1293.1" width="300" height="443.9" fill="url(#vm4g)"/></mask></defs>
<g stroke="#808080" stroke-width="13.6" stroke-linecap="round" mask="url(#vm4)">
<line x1="967.43" y1="1717.2" x2="1107.36" y2="1717.2"/>
<line x1="963.17" y1="1714.48" x2="1111.62" y2="1714.48"/>
<line x1="959.76" y1="1711.77" x2="1115.03" y2="1711.77"/>
<line x1="956.7" y1="1709.05" x2="1118.09" y2="1709.05"/>
<line x1="955.22" y1="1706.33" x2="1119.57" y2="1706.33"/>
<line x1="954.9" y1="1703.62" x2="1119.89" y2="1703.62"/>
<line x1="955.93" y1="1700.9" x2="1118.86" y2="1700.9"/>
<line x1="958.06" y1="1698.18" x2="1116.73" y2="1698.18"/>
<line x1="960.64" y1="1695.47" x2="1114.15" y2="1695.47"/>
<line x1="964.56" y1="1692.75" x2="1110.23" y2="1692.75"/>
<line x1="968.91" y1="1690.04" x2="1105.88" y2="1690.04"/>
<line x1="973.26" y1="1687.32" x2="1101.53" y2="1687.32"/>
<line x1="978" y1="1684.6" x2="1096.79" y2="1684.6"/>
<line x1="982.89" y1="1681.89" x2="1091.9" y2="1681.89"/>
<line x1="987.78" y1="1679.17" x2="1087.01" y2="1679.17"/>
<line x1="992.92" y1="1676.45" x2="1081.87" y2="1676.45"/>
<line x1="998.19" y1="1673.74" x2="1076.6" y2="1673.74"/>
<line x1="1003.46" y1="1671.02" x2="1071.33" y2="1671.02"/>
<line x1="1008.54" y1="1668.3" x2="1066.25" y2="1668.3"/>
<line x1="1013.43" y1="1665.59" x2="1061.36" y2="1665.59"/>
<line x1="1018.32" y1="1662.87" x2="1056.47" y2="1662.87"/>
<line x1="1023.14" y1="1660.15" x2="1051.65" y2="1660.15"/>
<line x1="1027.66" y1="1657.44" x2="1047.13" y2="1657.44"/>
<line x1="1031.66" y1="1654.72" x2="1043.13" y2="1654.72"/>
<line x1="1033.55" y1="1652" x2="1041.24" y2="1652"/>
<line x1="1034.68" y1="1649.29" x2="1040.11" y2="1649.29"/>
</g>
<defs><linearGradient id="vm5g" gradientUnits="userSpaceOnUse" x1="0" y1="1291.45" x2="0" y2="1524.76">
<stop offset="0.0000" stop-color="#fff" stop-opacity="0.35"/>
<stop offset="0.0514" stop-color="#fff" stop-opacity="0.35"/>
<stop offset="0.0862" stop-color="#fff" stop-opacity="1.0"/>
<stop offset="0.8525" stop-color="#fff" stop-opacity="1.0"/>
<stop offset="0.8821" stop-color="#fff" stop-opacity="0.5"/>
<stop offset="0.9486" stop-color="#fff" stop-opacity="0.1"/>
<stop offset="1.0000" stop-color="#fff" stop-opacity="0.1"/>
</linearGradient><mask id="vm5" maskUnits="userSpaceOnUse" x="1448.8" y="1293.1" width="300" height="443.9"><rect x="1448.8" y="1293.1" width="300" height="443.9" fill="url(#vm5g)"/></mask></defs>
<g stroke="#0e4d9b" stroke-width="13.6" stroke-linecap="round" mask="url(#vm5)">
<line x1="1598.69" y1="1505.31" x2="1598.9" y2="1505.31"/>
<line x1="1598.69" y1="1502.6" x2="1598.9" y2="1502.6"/>
<line x1="1598.69" y1="1499.88" x2="1598.9" y2="1499.88"/>
<line x1="1598.69" y1="1497.16" x2="1598.9" y2="1497.16"/>
<line x1="1598.69" y1="1494.45" x2="1598.9" y2="1494.45"/>
<line x1="1598.69" y1="1491.73" x2="1598.9" y2="1491.73"/>
<line x1="1598.65" y1="1489.01" x2="1598.94" y2="1489.01"/>
<line x1="1598.51" y1="1486.3" x2="1599.08" y2="1486.3"/>
<line x1="1598.38" y1="1483.58" x2="1599.21" y2="1483.58"/>
<line x1="1598.24" y1="1480.86" x2="1599.35" y2="1480.86"/>
<line x1="1598.09" y1="1478.15" x2="1599.5" y2="1478.15"/>
<line x1="1597.92" y1="1475.43" x2="1599.67" y2="1475.43"/>
<line x1="1597.75" y1="1472.72" x2="1599.84" y2="1472.72"/>
<line x1="1597.58" y1="1470" x2="1600.01" y2="1470"/>
<line x1="1597.41" y1="1467.28" x2="1600.18" y2="1467.28"/>
<line x1="1597.2" y1="1464.57" x2="1600.39" y2="1464.57"/>
<line x1="1596.89" y1="1461.85" x2="1600.7" y2="1461.85"/>
<line x1="1596.57" y1="1459.13" x2="1601.02" y2="1459.13"/>
<line x1="1596.25" y1="1456.42" x2="1601.34" y2="1456.42"/>
<line x1="1595.92" y1="1453.7" x2="1601.67" y2="1453.7"/>
<line x1="1595.56" y1="1450.98" x2="1602.03" y2="1450.98"/>
<line x1="1595.19" y1="1448.27" x2="1602.4" y2="1448.27"/>
<line x1="1594.83" y1="1445.55" x2="1602.76" y2="1445.55"/>
<line x1="1594.41" y1="1442.83" x2="1603.18" y2="1442.83"/>
<line x1="1593.92" y1="1440.12" x2="1603.67" y2="1440.12"/>
<line x1="1593.43" y1="1437.4" x2="1604.16" y2="1437.4"/>
<line x1="1592.91" y1="1434.68" x2="1604.68" y2="1434.68"/>
<line x1="1592.25" y1="1431.97" x2="1605.34" y2="1431.97"/>
<line x1="1591.59" y1="1429.25" x2="1606" y2="1429.25"/>
<line x1="1590.93" y1="1426.53" x2="1606.66" y2="1426.53"/>
<line x1="1590.27" y1="1423.82" x2="1607.32" y2="1423.82"/>
<line x1="1589.48" y1="1421.1" x2="1608.11" y2="1421.1"/>
<line x1="1588.6" y1="1418.38" x2="1608.99" y2="1418.38"/>
<line x1="1587.71" y1="1415.67" x2="1609.88" y2="1415.67"/>
<line x1="1586.83" y1="1412.95" x2="1610.76" y2="1412.95"/>
<line x1="1585.95" y1="1410.24" x2="1611.64" y2="1410.24"/>
<line x1="1585.01" y1="1407.52" x2="1612.58" y2="1407.52"/>
<line x1="1583.95" y1="1404.8" x2="1613.64" y2="1404.8"/>
<line x1="1582.9" y1="1402.09" x2="1614.69" y2="1402.09"/>
<line x1="1581.85" y1="1399.37" x2="1615.74" y2="1399.37"/>
<line x1="1580.8" y1="1396.65" x2="1616.79" y2="1396.65"/>
<line x1="1579.76" y1="1393.94" x2="1617.83" y2="1393.94"/>
<line x1="1578.76" y1="1391.22" x2="1618.83" y2="1391.22"/>
<line x1="1577.77" y1="1388.5" x2="1619.82" y2="1388.5"/>
<line x1="1576.77" y1="1385.79" x2="1620.82" y2="1385.79"/>
<line x1="1575.79" y1="1383.07" x2="1621.8" y2="1383.07"/>
<line x1="1574.84" y1="1380.35" x2="1622.75" y2="1380.35"/>
<line x1="1573.89" y1="1377.64" x2="1623.7" y2="1377.64"/>
<line x1="1572.94" y1="1374.92" x2="1624.65" y2="1374.92"/>
<line x1="1572.23" y1="1372.2" x2="1625.36" y2="1372.2"/>
<line x1="1571.58" y1="1369.49" x2="1626.01" y2="1369.49"/>
<line x1="1570.92" y1="1366.77" x2="1626.67" y2="1366.77"/>
<line x1="1570.61" y1="1364.06" x2="1626.98" y2="1364.06"/>
<line x1="1570.34" y1="1361.34" x2="1627.25" y2="1361.34"/>
<line x1="1570.18" y1="1358.62" x2="1627.41" y2="1358.62"/>
<line x1="1570.56" y1="1355.91" x2="1627.03" y2="1355.91"/>
<line x1="1570.94" y1="1353.19" x2="1626.65" y2="1353.19"/>
<line x1="1571.69" y1="1350.47" x2="1625.9" y2="1350.47"/>
<line x1="1572.72" y1="1347.76" x2="1624.87" y2="1347.76"/>
<line x1="1573.75" y1="1345.04" x2="1623.84" y2="1345.04"/>
<line x1="1575.51" y1="1342.32" x2="1622.08" y2="1342.32"/>
<line x1="1577.36" y1="1339.61" x2="1620.23" y2="1339.61"/>
<line x1="1579.22" y1="1336.89" x2="1618.37" y2="1336.89"/>
<line x1="1581.28" y1="1334.17" x2="1616.31" y2="1334.17"/>
<line x1="1583.35" y1="1331.46" x2="1614.24" y2="1331.46"/>
<line x1="1585.41" y1="1328.74" x2="1612.18" y2="1328.74"/>
<line x1="1587.38" y1="1326.02" x2="1610.21" y2="1326.02"/>
<line x1="1589.34" y1="1323.31" x2="1608.25" y2="1323.31"/>
<line x1="1591.29" y1="1320.59" x2="1606.3" y2="1320.59"/>
<line x1="1593.32" y1="1317.87" x2="1604.27" y2="1317.87"/>
<line x1="1595.39" y1="1315.16" x2="1602.2" y2="1315.16"/>
<line x1="1597.45" y1="1312.44" x2="1600.14" y2="1312.44"/>
</g>
<defs><linearGradient id="vm6g" gradientUnits="userSpaceOnUse" x1="0" y1="1544" x2="0" y2="1658">
<stop offset="0.0000" stop-color="#fff" stop-opacity="0.0"/>
<stop offset="0.1053" stop-color="#fff" stop-opacity="0.0"/>
<stop offset="0.1491" stop-color="#fff" stop-opacity="0.3"/>
<stop offset="0.1930" stop-color="#fff" stop-opacity="0.7"/>
<stop offset="0.2281" stop-color="#fff" stop-opacity="1.0"/>
<stop offset="0.7544" stop-color="#fff" stop-opacity="1.0"/>
<stop offset="0.7982" stop-color="#fff" stop-opacity="0.75"/>
<stop offset="0.8509" stop-color="#fff" stop-opacity="0.5"/>
<stop offset="0.8947" stop-color="#fff" stop-opacity="0.5"/>
<stop offset="1.0000" stop-color="#fff" stop-opacity="0.5"/>
</linearGradient><mask id="vm6" maskUnits="userSpaceOnUse" x="1448.8" y="1293.1" width="300" height="443.9"><rect x="1448.8" y="1293.1" width="300" height="443.9" fill="url(#vm6g)"/></mask></defs>
<g stroke="#0e4d9b" stroke-width="13.6" stroke-linecap="round" mask="url(#vm6)">
<line x1="1598.8" y1="1563" x2="1598.8" y2="1641" stroke-width="15.4"/>
</g>
<defs><linearGradient id="vm7g" gradientUnits="userSpaceOnUse" x1="0" y1="1629.21" x2="0" y2="1737">
<stop offset="0.0000" stop-color="#fff" stop-opacity="0.4"/>
<stop offset="0.1113" stop-color="#fff" stop-opacity="0.4"/>
<stop offset="0.1753" stop-color="#fff" stop-opacity="0.8"/>
<stop offset="0.2153" stop-color="#fff" stop-opacity="1.0"/>
<stop offset="0.8887" stop-color="#fff" stop-opacity="1.0"/>
<stop offset="1.0000" stop-color="#fff" stop-opacity="1.0"/>
</linearGradient><mask id="vm7" maskUnits="userSpaceOnUse" x="1448.8" y="1293.1" width="300" height="443.9"><rect x="1448.8" y="1293.1" width="300" height="443.9" fill="url(#vm7g)"/></mask></defs>
<g stroke="#0e4d9b" stroke-width="13.6" stroke-linecap="round" mask="url(#vm7)">
<line x1="1531.22" y1="1717.2" x2="1666.37" y2="1717.2"/>
<line x1="1526.24" y1="1714.48" x2="1671.35" y2="1714.48"/>
<line x1="1521.96" y1="1711.77" x2="1675.63" y2="1711.77"/>
<line x1="1519.25" y1="1709.05" x2="1678.34" y2="1709.05"/>
<line x1="1517.39" y1="1706.33" x2="1680.2" y2="1706.33"/>
<line x1="1516.78" y1="1703.62" x2="1680.81" y2="1703.62"/>
<line x1="1518.12" y1="1700.9" x2="1679.47" y2="1700.9"/>
<line x1="1519.61" y1="1698.18" x2="1677.98" y2="1698.18"/>
<line x1="1522.96" y1="1695.47" x2="1674.63" y2="1695.47"/>
<line x1="1526.35" y1="1692.75" x2="1671.24" y2="1692.75"/>
<line x1="1530.91" y1="1690.04" x2="1666.68" y2="1690.04"/>
<line x1="1535.67" y1="1687.32" x2="1661.92" y2="1687.32"/>
<line x1="1540.73" y1="1684.6" x2="1656.86" y2="1684.6"/>
<line x1="1546.16" y1="1681.89" x2="1651.43" y2="1681.89"/>
<line x1="1551.6" y1="1679.17" x2="1645.99" y2="1679.17"/>
<line x1="1557.72" y1="1676.45" x2="1639.87" y2="1676.45"/>
<line x1="1563.83" y1="1673.74" x2="1633.76" y2="1673.74"/>
<line x1="1569.36" y1="1671.02" x2="1628.23" y2="1671.02"/>
<line x1="1574.12" y1="1668.3" x2="1623.47" y2="1668.3"/>
<line x1="1578.87" y1="1665.59" x2="1618.72" y2="1665.59"/>
<line x1="1582.33" y1="1662.87" x2="1615.26" y2="1662.87"/>
<line x1="1585.04" y1="1660.15" x2="1612.55" y2="1660.15"/>
<line x1="1587.76" y1="1657.44" x2="1609.83" y2="1657.44"/>
<line x1="1590.48" y1="1654.72" x2="1607.11" y2="1654.72"/>
<line x1="1593.19" y1="1652" x2="1604.4" y2="1652"/>
<line x1="1595.74" y1="1649.29" x2="1601.85" y2="1649.29"/>
</g>
</g>
<rect x="140.3" y="1293.1" width="1793.7" height="443.9" fill="none" stroke="#b3b3b3" stroke-width="2.1"/>
<line x1="128.8" y1="1717.2" x2="140.3" y2="1717.2" stroke="#b3b3b3" stroke-width="1.9"/>
<text x="120" y="1724.39" font-size="18.4" fill="#4d4d4d" text-anchor="end">0</text>
<line x1="128.8" y1="1581.38" x2="140.3" y2="1581.38" stroke="#b3b3b3" stroke-width="1.9"/>
<text x="120" y="1588.56" font-size="18.4" fill="#4d4d4d" text-anchor="end">50</text>
<line x1="128.8" y1="1445.55" x2="140.3" y2="1445.55" stroke="#b3b3b3" stroke-width="1.9"/>
<text x="120" y="1452.74" font-size="18.4" fill="#4d4d4d" text-anchor="end">100</text>
<line x1="128.8" y1="1309.73" x2="140.3" y2="1309.73" stroke="#b3b3b3" stroke-width="1.9"/>
<text x="120" y="1316.91" font-size="18.4" fill="#4d4d4d" text-anchor="end">150</text>
<line x1="475.7" y1="1737" x2="475.7" y2="1748.5" stroke="#b3b3b3" stroke-width="1.9"/>
<text x="475.7" y="1768.8" font-size="18.4" fill="#4d4d4d" textLength="134.4" lengthAdjust="spacing" text-anchor="middle">British Columbia</text>
<line x1="1037.4" y1="1737" x2="1037.4" y2="1748.5" stroke="#b3b3b3" stroke-width="1.9"/>
<text x="1037.4" y="1768.8" font-size="18.4" fill="#4d4d4d" textLength="240.3" lengthAdjust="spacing" text-anchor="middle">British Columbia v.s. England</text>
<line x1="1598.8" y1="1737" x2="1598.8" y2="1748.5" stroke="#b3b3b3" stroke-width="1.9"/>
<text x="1598.8" y="1768.8" font-size="18.4" fill="#4d4d4d" textLength="68.0" lengthAdjust="spacing" text-anchor="middle">England</text>
<text x="74.1" y="1514.8" font-size="23.0" fill="#000" text-anchor="middle" transform="rotate(-90 74.1 1514.8)">Pairwise SNPs</text>
<text x="1037.2" y="1799.2" font-size="23.0" fill="#000" textLength="215.8" lengthAdjust="spacing" text-anchor="middle">Country Combination</text>
<text x="0" y="1883.5" font-size="41.67" fill="#000" font-weight="bold">d</text>
<text x="130.3" y="1904.1" font-size="27.08" fill="#000" textLength="1320.6" lengthAdjust="spacing">Pairwise SNPs (same sublineage) and Years within and between British Columbia (Canada) and England (UK)</text>
<line x1="224.27" y1="1990.9" x2="224.27" y2="2523.6" stroke="#d8d8d8" stroke-width="0.95"/>
<line x1="360.42" y1="1990.9" x2="360.42" y2="2523.6" stroke="#d8d8d8" stroke-width="0.95"/>
<line x1="496.57" y1="1990.9" x2="496.57" y2="2523.6" stroke="#d8d8d8" stroke-width="0.95"/>
<line x1="632.73" y1="1990.9" x2="632.73" y2="2523.6" stroke="#d8d8d8" stroke-width="0.95"/>
<line x1="131" y1="2452.82" x2="716.5" y2="2452.82" stroke="#d8d8d8" stroke-width="0.95"/>
<line x1="131" y1="2357.47" x2="716.5" y2="2357.47" stroke="#d8d8d8" stroke-width="0.95"/>
<line x1="131" y1="2262.12" x2="716.5" y2="2262.12" stroke="#d8d8d8" stroke-width="0.95"/>
<line x1="131" y1="2166.78" x2="716.5" y2="2166.78" stroke="#d8d8d8" stroke-width="0.95"/>
<line x1="131" y1="2071.43" x2="716.5" y2="2071.43" stroke="#d8d8d8" stroke-width="0.95"/>
<line x1="156.2" y1="1990.9" x2="156.2" y2="2523.6" stroke="#d8d8d8" stroke-width="1.95"/>
<line x1="292.35" y1="1990.9" x2="292.35" y2="2523.6" stroke="#d8d8d8" stroke-width="1.95"/>
<line x1="428.5" y1="1990.9" x2="428.5" y2="2523.6" stroke="#d8d8d8" stroke-width="1.95"/>
<line x1="564.65" y1="1990.9" x2="564.65" y2="2523.6" stroke="#d8d8d8" stroke-width="1.95"/>
<line x1="700.8" y1="1990.9" x2="700.8" y2="2523.6" stroke="#d8d8d8" stroke-width="1.95"/>
<line x1="131" y1="2500.5" x2="716.5" y2="2500.5" stroke="#d8d8d8" stroke-width="1.95"/>
<line x1="131" y1="2405.15" x2="716.5" y2="2405.15" stroke="#d8d8d8" stroke-width="1.95"/>
<line x1="131" y1="2309.8" x2="716.5" y2="2309.8" stroke="#d8d8d8" stroke-width="1.95"/>
<line x1="131" y1="2214.45" x2="716.5" y2="2214.45" stroke="#d8d8d8" stroke-width="1.95"/>
<line x1="131" y1="2119.1" x2="716.5" y2="2119.1" stroke="#d8d8d8" stroke-width="1.95"/>
<line x1="131" y1="2023.75" x2="716.5" y2="2023.75" stroke="#d8d8d8" stroke-width="1.95"/>
<g stroke="#fff" stroke-width="5.6" stroke-linejoin="miter">
<polygon points="173.45,2510.03 173.45,2490.97 156.2,2481.44 138.95,2490.97 138.95,2510.03 156.2,2519.56" fill="#74db5f"/>
<polygon points="207.95,2510.03 207.95,2490.97 190.7,2481.44 173.45,2490.97 173.45,2510.03 190.7,2519.56" fill="#8ec17f"/>
<polygon points="242.45,2510.03 242.45,2490.97 225.2,2481.44 207.95,2490.97 207.95,2510.03 225.2,2519.56" fill="#78d863"/>
<polygon points="276.95,2510.03 276.95,2490.97 259.7,2481.44 242.45,2490.97 242.45,2510.03 259.7,2519.56" fill="#95b58c"/>
<polygon points="311.45,2510.03 311.45,2490.97 294.2,2481.44 276.95,2490.97 276.95,2510.03 294.2,2519.56" fill="#a295aa"/>
<polygon points="345.95,2510.03 345.95,2490.97 328.7,2481.44 311.45,2490.97 311.45,2510.03 328.7,2519.56" fill="#9f9ea2"/>
<polygon points="380.45,2510.03 380.45,2490.97 363.2,2481.44 345.95,2490.97 345.95,2510.03 363.2,2519.56" fill="#a48cb1"/>
<polygon points="449.45,2510.03 449.45,2490.97 432.2,2481.44 414.95,2490.97 414.95,2510.03 432.2,2519.56" fill="#a677c2"/>
<polygon points="483.95,2510.03 483.95,2490.97 466.7,2481.44 449.45,2490.97 449.45,2510.03 466.7,2519.56" fill="#a48cb1"/>
<polygon points="518.45,2510.03 518.45,2490.97 501.2,2481.44 483.95,2490.97 483.95,2510.03 501.2,2519.56" fill="#a677c2"/>
<polygon points="552.95,2510.03 552.95,2490.97 535.7,2481.44 518.45,2490.97 518.45,2510.03 535.7,2519.56" fill="#a48cb1"/>
<polygon points="587.45,2510.03 587.45,2490.97 570.2,2481.44 552.95,2490.97 552.95,2510.03 570.2,2519.56" fill="#a677c2"/>
<polygon points="190.7,2481.43 190.7,2462.37 173.45,2452.84 156.2,2462.37 156.2,2481.43 173.45,2490.96" fill="#6ae355"/>
<polygon points="225.2,2481.43 225.2,2462.37 207.95,2452.84 190.7,2462.37 190.7,2481.43 207.95,2490.96" fill="#78d863"/>
<polygon points="259.7,2481.43 259.7,2462.37 242.45,2452.84 225.2,2462.37 225.2,2481.43 242.45,2490.96" fill="#7ed36b"/>
<polygon points="294.2,2481.43 294.2,2462.37 276.95,2452.84 259.7,2462.37 259.7,2481.43 276.95,2490.96" fill="#78d863"/>
<polygon points="328.7,2481.43 328.7,2462.37 311.45,2452.84 294.2,2462.37 294.2,2481.43 311.45,2490.96" fill="#95b58c"/>
<polygon points="363.2,2481.43 363.2,2462.37 345.95,2452.84 328.7,2462.37 328.7,2481.43 345.95,2490.96" fill="#95b58c"/>
<polygon points="397.7,2481.43 397.7,2462.37 380.45,2452.84 363.2,2462.37 363.2,2481.43 380.45,2490.96" fill="#9f9ea2"/>
<polygon points="432.2,2481.43 432.2,2462.37 414.95,2452.84 397.7,2462.37 397.7,2481.43 414.95,2490.96" fill="#a48cb1"/>
<polygon points="466.7,2481.43 466.7,2462.37 449.45,2452.84 432.2,2462.37 432.2,2481.43 449.45,2490.96" fill="#a48cb1"/>
<polygon points="501.2,2481.43 501.2,2462.37 483.95,2452.84 466.7,2462.37 466.7,2481.43 483.95,2490.96" fill="#a48cb1"/>
<polygon points="535.7,2481.43 535.7,2462.37 518.45,2452.84 501.2,2462.37 501.2,2481.43 518.45,2490.96" fill="#a677c2"/>
<polygon points="570.2,2481.43 570.2,2462.37 552.95,2452.84 535.7,2462.37 535.7,2481.43 552.95,2490.96" fill="#9ba997"/>
<polygon points="173.45,2452.83 173.45,2433.77 156.2,2424.24 138.95,2433.77 138.95,2452.83 156.2,2462.36" fill="#95b58c"/>
<polygon points="207.95,2452.83 207.95,2433.77 190.7,2424.24 173.45,2433.77 173.45,2452.83 190.7,2462.36" fill="#9f9ea2"/>
<polygon points="242.45,2452.83 242.45,2433.77 225.2,2424.24 207.95,2433.77 207.95,2452.83 225.2,2462.36" fill="#95b58c"/>
<polygon points="276.95,2452.83 276.95,2433.77 259.7,2424.24 242.45,2433.77 242.45,2452.83 259.7,2462.36" fill="#9ba997"/>
<polygon points="311.45,2452.83 311.45,2433.77 294.2,2424.24 276.95,2433.77 276.95,2452.83 294.2,2462.36" fill="#a48cb1"/>
<polygon points="345.95,2452.83 345.95,2433.77 328.7,2424.24 311.45,2433.77 311.45,2452.83 328.7,2462.36" fill="#a48cb1"/>
<polygon points="380.45,2452.83 380.45,2433.77 363.2,2424.24 345.95,2433.77 345.95,2452.83 363.2,2462.36" fill="#9f9ea2"/>
<polygon points="449.45,2452.83 449.45,2433.77 432.2,2424.24 414.95,2433.77 414.95,2452.83 432.2,2462.36" fill="#a33fe5"/>
<polygon points="483.95,2452.83 483.95,2433.77 466.7,2424.24 449.45,2433.77 449.45,2452.83 466.7,2462.36" fill="#a33fe5"/>
<polygon points="552.95,2452.83 552.95,2433.77 535.7,2424.24 518.45,2433.77 518.45,2452.83 535.7,2462.36" fill="#a65dd4"/>
<polygon points="190.7,2424.23 190.7,2405.17 173.45,2395.64 156.2,2405.17 156.2,2424.23 173.45,2433.76" fill="#9aac95"/>
<polygon points="225.2,2424.23 225.2,2405.17 207.95,2395.64 190.7,2405.17 190.7,2424.23 207.95,2433.76" fill="#9f9ea2"/>
<polygon points="259.7,2424.23 259.7,2405.17 242.45,2395.64 225.2,2405.17 225.2,2424.23 242.45,2433.76" fill="#9ba997"/>
<polygon points="294.2,2424.23 294.2,2405.17 276.95,2395.64 259.7,2405.17 259.7,2424.23 276.95,2433.76" fill="#9ba997"/>
<polygon points="328.7,2424.23 328.7,2405.17 311.45,2395.64 294.2,2405.17 294.2,2424.23 311.45,2433.76" fill="#a66acb"/>
<polygon points="363.2,2424.23 363.2,2405.17 345.95,2395.64 328.7,2405.17 328.7,2424.23 345.95,2433.76" fill="#a48cb1"/>
<polygon points="397.7,2424.23 397.7,2405.17 380.45,2395.64 363.2,2405.17 363.2,2424.23 380.45,2433.76" fill="#a444e2"/>
<polygon points="432.2,2424.23 432.2,2405.17 414.95,2395.64 397.7,2405.17 397.7,2424.23 414.95,2433.76" fill="#a66acb"/>
<polygon points="466.7,2424.23 466.7,2405.17 449.45,2395.64 432.2,2405.17 432.2,2424.23 449.45,2433.76" fill="#a65dd4"/>
<polygon points="501.2,2424.23 501.2,2405.17 483.95,2395.64 466.7,2405.17 466.7,2424.23 483.95,2433.76" fill="#a65dd4"/>
<polygon points="535.7,2424.23 535.7,2405.17 518.45,2395.64 501.2,2405.17 501.2,2424.23 518.45,2433.76" fill="#a66acb"/>
<polygon points="570.2,2424.23 570.2,2405.17 552.95,2395.64 535.7,2405.17 535.7,2424.23 552.95,2433.76" fill="#a677c2"/>
<polygon points="639.2,2424.23 639.2,2405.17 621.95,2395.64 604.7,2405.17 604.7,2424.23 621.95,2433.76" fill="#a65dd4"/>
<polygon points="173.45,2395.63 173.45,2376.57 156.2,2367.04 138.95,2376.57 138.95,2395.63 156.2,2405.16" fill="#9f9ea2"/>
<polygon points="207.95,2395.63 207.95,2376.57 190.7,2367.04 173.45,2376.57 173.45,2395.63 190.7,2405.16" fill="#a48cb1"/>
<polygon points="242.45,2395.63 242.45,2376.57 225.2,2367.04 207.95,2376.57 207.95,2395.63 225.2,2405.16" fill="#a48cb1"/>
<polygon points="276.95,2395.63 276.95,2376.57 259.7,2367.04 242.45,2376.57 242.45,2395.63 259.7,2405.16" fill="#a65dd4"/>
<polygon points="345.95,2395.63 345.95,2376.57 328.7,2367.04 311.45,2376.57 311.45,2395.63 328.7,2405.16" fill="#a65dd4"/>
<polygon points="380.45,2395.63 380.45,2376.57 363.2,2367.04 345.95,2376.57 345.95,2395.63 363.2,2405.16" fill="#a65dd4"/>
<polygon points="414.95,2395.63 414.95,2376.57 397.7,2367.04 380.45,2376.57 380.45,2395.63 397.7,2405.16" fill="#a677c2"/>
<polygon points="449.45,2395.63 449.45,2376.57 432.2,2367.04 414.95,2376.57 414.95,2395.63 432.2,2405.16" fill="#a66acb"/>
<polygon points="483.95,2395.63 483.95,2376.57 466.7,2367.04 449.45,2376.57 449.45,2395.63 466.7,2405.16" fill="#a677c2"/>
<polygon points="518.45,2395.63 518.45,2376.57 501.2,2367.04 483.95,2376.57 483.95,2395.63 501.2,2405.16" fill="#a581ba"/>
<polygon points="552.95,2395.63 552.95,2376.57 535.7,2367.04 518.45,2376.57 518.45,2395.63 535.7,2405.16" fill="#a677c2"/>
<polygon points="587.45,2395.63 587.45,2376.57 570.2,2367.04 552.95,2376.57 552.95,2395.63 570.2,2405.16" fill="#a677c2"/>
<polygon points="621.95,2395.63 621.95,2376.57 604.7,2367.04 587.45,2376.57 587.45,2395.63 604.7,2405.16" fill="#a48cb1"/>
<polygon points="656.45,2395.63 656.45,2376.57 639.2,2367.04 621.95,2376.57 621.95,2395.63 639.2,2405.16" fill="#a677c2"/>
<polygon points="690.95,2395.63 690.95,2376.57 673.7,2367.04 656.45,2376.57 656.45,2395.63 673.7,2405.16" fill="#a65dd4"/>
<polygon points="190.7,2367.03 190.7,2347.97 173.45,2338.44 156.2,2347.97 156.2,2367.03 173.45,2376.56" fill="#9f9ea2"/>
<polygon points="225.2,2367.03 225.2,2347.97 207.95,2338.44 190.7,2347.97 190.7,2367.03 207.95,2376.56" fill="#9f9ea2"/>
<polygon points="259.7,2367.03 259.7,2347.97 242.45,2338.44 225.2,2347.97 225.2,2367.03 242.45,2376.56" fill="#9f9ea2"/>
<polygon points="294.2,2367.03 294.2,2347.97 276.95,2338.44 259.7,2347.97 259.7,2367.03 276.95,2376.56" fill="#9f9ea2"/>
<polygon points="328.7,2367.03 328.7,2347.97 311.45,2338.44 294.2,2347.97 294.2,2367.03 311.45,2376.56" fill="#a48cb1"/>
<polygon points="363.2,2367.03 363.2,2347.97 345.95,2338.44 328.7,2347.97 328.7,2367.03 345.95,2376.56" fill="#a48cb1"/>
<polygon points="397.7,2367.03 397.7,2347.97 380.45,2338.44 363.2,2347.97 363.2,2367.03 380.45,2376.56" fill="#a677c2"/>
<polygon points="432.2,2367.03 432.2,2347.97 414.95,2338.44 397.7,2347.97 397.7,2367.03 414.95,2376.56" fill="#95b58c"/>
<polygon points="466.7,2367.03 466.7,2347.97 449.45,2338.44 432.2,2347.97 432.2,2367.03 449.45,2376.56" fill="#9f9ea2"/>
<polygon points="501.2,2367.03 501.2,2347.97 483.95,2338.44 466.7,2347.97 466.7,2367.03 483.95,2376.56" fill="#9f9ea2"/>
<polygon points="535.7,2367.03 535.7,2347.97 518.45,2338.44 501.2,2347.97 501.2,2367.03 518.45,2376.56" fill="#95b58c"/>
<polygon points="570.2,2367.03 570.2,2347.97 552.95,2338.44 535.7,2347.97 535.7,2367.03 552.95,2376.56" fill="#95b58c"/>
<polygon points="604.7,2367.03 604.7,2347.97 587.45,2338.44 570.2,2347.97 570.2,2367.03 587.45,2376.56" fill="#9f9ea2"/>
<polygon points="639.2,2367.03 639.2,2347.97 621.95,2338.44 604.7,2347.97 604.7,2367.03 621.95,2376.56" fill="#9f9ea2"/>
<polygon points="673.7,2367.03 673.7,2347.97 656.45,2338.44 639.2,2347.97 639.2,2367.03 656.45,2376.56" fill="#a48cb1"/>
<polygon points="173.45,2338.43 173.45,2319.37 156.2,2309.84 138.95,2319.37 138.95,2338.43 156.2,2347.96" fill="#9f9ea2"/>
<polygon points="207.95,2338.43 207.95,2319.37 190.7,2309.84 173.45,2319.37 173.45,2338.43 190.7,2347.96" fill="#a677c2"/>
<polygon points="242.45,2338.43 242.45,2319.37 225.2,2309.84 207.95,2319.37 207.95,2338.43 225.2,2347.96" fill="#9f9ea2"/>
<polygon points="276.95,2338.43 276.95,2319.37 259.7,2309.84 242.45,2319.37 242.45,2338.43 259.7,2347.96" fill="#a677c2"/>
<polygon points="311.45,2338.43 311.45,2319.37 294.2,2309.84 276.95,2319.37 276.95,2338.43 294.2,2347.96" fill="#a677c2"/>
<polygon points="345.95,2338.43 345.95,2319.37 328.7,2309.84 311.45,2319.37 311.45,2338.43 328.7,2347.96" fill="#a581ba"/>
<polygon points="380.45,2338.43 380.45,2319.37 363.2,2309.84 345.95,2319.37 345.95,2338.43 363.2,2347.96" fill="#a48cb1"/>
<polygon points="414.95,2338.43 414.95,2319.37 397.7,2309.84 380.45,2319.37 380.45,2338.43 397.7,2347.96" fill="#a48cb1"/>
<polygon points="449.45,2338.43 449.45,2319.37 432.2,2309.84 414.95,2319.37 414.95,2338.43 432.2,2347.96" fill="#a48cb1"/>
<polygon points="483.95,2338.43 483.95,2319.37 466.7,2309.84 449.45,2319.37 449.45,2338.43 466.7,2347.96" fill="#9f9ea2"/>
<polygon points="518.45,2338.43 518.45,2319.37 501.2,2309.84 483.95,2319.37 483.95,2338.43 501.2,2347.96" fill="#a295aa"/>
<polygon points="552.95,2338.43 552.95,2319.37 535.7,2309.84 518.45,2319.37 518.45,2338.43 535.7,2347.96" fill="#a48cb1"/>
<polygon points="587.45,2338.43 587.45,2319.37 570.2,2309.84 552.95,2319.37 552.95,2338.43 570.2,2347.96" fill="#a48cb1"/>
<polygon points="621.95,2338.43 621.95,2319.37 604.7,2309.84 587.45,2319.37 587.45,2338.43 604.7,2347.96" fill="#9f9ea2"/>
<polygon points="656.45,2338.43 656.45,2319.37 639.2,2309.84 621.95,2319.37 621.95,2338.43 639.2,2347.96" fill="#a677c2"/>
<polygon points="690.95,2338.43 690.95,2319.37 673.7,2309.84 656.45,2319.37 656.45,2338.43 673.7,2347.96" fill="#a444e2"/>
<polygon points="190.7,2309.83 190.7,2290.77 173.45,2281.24 156.2,2290.77 156.2,2309.83 173.45,2319.36" fill="#95b58c"/>
<polygon points="225.2,2309.83 225.2,2290.77 207.95,2281.24 190.7,2290.77 190.7,2309.83 207.95,2319.36" fill="#9f9ea2"/>
<polygon points="259.7,2309.83 259.7,2290.77 242.45,2281.24 225.2,2290.77 225.2,2309.83 242.45,2319.36" fill="#95b58c"/>
<polygon points="294.2,2309.83 294.2,2290.77 276.95,2281.24 259.7,2290.77 259.7,2309.83 276.95,2319.36" fill="#a197a8"/>
<polygon points="328.7,2309.83 328.7,2290.77 311.45,2281.24 294.2,2290.77 294.2,2309.83 311.45,2319.36" fill="#a66acb"/>
<polygon points="363.2,2309.83 363.2,2290.77 345.95,2281.24 328.7,2290.77 328.7,2309.83 345.95,2319.36" fill="#a677c2"/>
<polygon points="397.7,2309.83 397.7,2290.77 380.45,2281.24 363.2,2290.77 363.2,2309.83 380.45,2319.36" fill="#a677c2"/>
<polygon points="432.2,2309.83 432.2,2290.77 414.95,2281.24 397.7,2290.77 397.7,2309.83 414.95,2319.36" fill="#9f9ea2"/>
<polygon points="466.7,2309.83 466.7,2290.77 449.45,2281.24 432.2,2290.77 432.2,2309.83 449.45,2319.36" fill="#9f9ea2"/>
<polygon points="501.2,2309.83 501.2,2290.77 483.95,2281.24 466.7,2290.77 466.7,2309.83 483.95,2319.36" fill="#a48cb1"/>
<polygon points="535.7,2309.83 535.7,2290.77 518.45,2281.24 501.2,2290.77 501.2,2309.83 518.45,2319.36" fill="#9f9ea2"/>
<polygon points="570.2,2309.83 570.2,2290.77 552.95,2281.24 535.7,2290.77 535.7,2309.83 552.95,2319.36" fill="#a48cb1"/>
<polygon points="604.7,2309.83 604.7,2290.77 587.45,2281.24 570.2,2290.77 570.2,2309.83 587.45,2319.36" fill="#a677c2"/>
<polygon points="639.2,2309.83 639.2,2290.77 621.95,2281.24 604.7,2290.77 604.7,2309.83 621.95,2319.36" fill="#a677c2"/>
<polygon points="673.7,2309.83 673.7,2290.77 656.45,2281.24 639.2,2290.77 639.2,2309.83 656.45,2319.36" fill="#a677c2"/>
<polygon points="708.2,2309.83 708.2,2290.77 690.95,2281.24 673.7,2290.77 673.7,2309.83 690.95,2319.36" fill="#a33fe5"/>
<polygon points="173.45,2281.23 173.45,2262.17 156.2,2252.64 138.95,2262.17 138.95,2281.23 156.2,2290.76" fill="#a677c2"/>
<polygon points="207.95,2281.23 207.95,2262.17 190.7,2252.64 173.45,2262.17 173.45,2281.23 190.7,2290.76" fill="#a677c2"/>
<polygon points="242.45,2281.23 242.45,2262.17 225.2,2252.64 207.95,2262.17 207.95,2281.23 225.2,2290.76" fill="#9f9ea2"/>
<polygon points="276.95,2281.23 276.95,2262.17 259.7,2252.64 242.45,2262.17 242.45,2281.23 259.7,2290.76" fill="#a48cb1"/>
<polygon points="311.45,2281.23 311.45,2262.17 294.2,2252.64 276.95,2262.17 276.95,2281.23 294.2,2290.76" fill="#a65dd4"/>
<polygon points="345.95,2281.23 345.95,2262.17 328.7,2252.64 311.45,2262.17 311.45,2281.23 328.7,2290.76" fill="#a677c2"/>
<polygon points="380.45,2281.23 380.45,2262.17 363.2,2252.64 345.95,2262.17 345.95,2281.23 363.2,2290.76" fill="#a65dd4"/>
<polygon points="414.95,2281.23 414.95,2262.17 397.7,2252.64 380.45,2262.17 380.45,2281.23 397.7,2290.76" fill="#a33fe5"/>
<polygon points="449.45,2281.23 449.45,2262.17 432.2,2252.64 414.95,2262.17 414.95,2281.23 432.2,2290.76" fill="#a677c2"/>
<polygon points="483.95,2281.23 483.95,2262.17 466.7,2252.64 449.45,2262.17 449.45,2281.23 466.7,2290.76" fill="#a677c2"/>
<polygon points="518.45,2281.23 518.45,2262.17 501.2,2252.64 483.95,2262.17 483.95,2281.23 501.2,2290.76" fill="#a677c2"/>
<polygon points="552.95,2281.23 552.95,2262.17 535.7,2252.64 518.45,2262.17 518.45,2281.23 535.7,2290.76" fill="#a677c2"/>
<polygon points="587.45,2281.23 587.45,2262.17 570.2,2252.64 552.95,2262.17 552.95,2281.23 570.2,2290.76" fill="#a677c2"/>
<polygon points="621.95,2281.23 621.95,2262.17 604.7,2252.64 587.45,2262.17 587.45,2281.23 604.7,2290.76" fill="#a65dd4"/>
<polygon points="190.7,2252.63 190.7,2233.57 173.45,2224.04 156.2,2233.57 156.2,2252.63 173.45,2262.16" fill="#a677c2"/>
<polygon points="225.2,2252.63 225.2,2233.57 207.95,2224.04 190.7,2233.57 190.7,2252.63 207.95,2262.16" fill="#a33fe5"/>
<polygon points="259.7,2252.63 259.7,2233.57 242.45,2224.04 225.2,2233.57 225.2,2252.63 242.45,2262.16" fill="#a65dd4"/>
<polygon points="397.7,2252.63 397.7,2233.57 380.45,2224.04 363.2,2233.57 363.2,2252.63 380.45,2262.16" fill="#a33fe5"/>
<polygon points="432.2,2252.63 432.2,2233.57 414.95,2224.04 397.7,2233.57 397.7,2252.63 414.95,2262.16" fill="#a48cb1"/>
<polygon points="466.7,2252.63 466.7,2233.57 449.45,2224.04 432.2,2233.57 432.2,2252.63 449.45,2262.16" fill="#a65dd4"/>
<polygon points="501.2,2252.63 501.2,2233.57 483.95,2224.04 466.7,2233.57 466.7,2252.63 483.95,2262.16" fill="#a65dd4"/>
<polygon points="535.7,2252.63 535.7,2233.57 518.45,2224.04 501.2,2233.57 501.2,2252.63 518.45,2262.16" fill="#a677c2"/>
<polygon points="570.2,2252.63 570.2,2233.57 552.95,2224.04 535.7,2233.57 535.7,2252.63 552.95,2262.16" fill="#a677c2"/>
<polygon points="604.7,2252.63 604.7,2233.57 587.45,2224.04 570.2,2233.57 570.2,2252.63 587.45,2262.16" fill="#a65dd4"/>
<polygon points="639.2,2252.63 639.2,2233.57 621.95,2224.04 604.7,2233.57 604.7,2252.63 621.95,2262.16" fill="#a33fe5"/>
<polygon points="207.95,2224.03 207.95,2204.97 190.7,2195.44 173.45,2204.97 173.45,2224.03 190.7,2233.56" fill="#a33fe5"/>
<polygon points="242.45,2224.03 242.45,2204.97 225.2,2195.44 207.95,2204.97 207.95,2224.03 225.2,2233.56" fill="#a677c2"/>
<polygon points="449.45,2224.03 449.45,2204.97 432.2,2195.44 414.95,2204.97 414.95,2224.03 432.2,2233.56" fill="#a33fe5"/>
<polygon points="483.95,2224.03 483.95,2204.97 466.7,2195.44 449.45,2204.97 449.45,2224.03 466.7,2233.56" fill="#a33fe5"/>
</g>
<line x1="156.9" y1="2454.5" x2="672.3" y2="2331.1" stroke="#000" stroke-width="8.8"/>
<rect x="131" y="1990.9" width="585.5" height="532.7" fill="none" stroke="#b3b3b3" stroke-width="2.1"/>
<line x1="156.2" y1="2523.6" x2="156.2" y2="2535.1" stroke="#b3b3b3" stroke-width="1.9"/>
<text x="156.2" y="2556.8" font-size="18.4" fill="#4d4d4d" text-anchor="middle">0</text>
<line x1="292.35" y1="2523.6" x2="292.35" y2="2535.1" stroke="#b3b3b3" stroke-width="1.9"/>
<text x="292.35" y="2556.8" font-size="18.4" fill="#4d4d4d" text-anchor="middle">5</text>
<line x1="428.5" y1="2523.6" x2="428.5" y2="2535.1" stroke="#b3b3b3" stroke-width="1.9"/>
<text x="428.5" y="2556.8" font-size="18.4" fill="#4d4d4d" text-anchor="middle">10</text>
<line x1="564.65" y1="2523.6" x2="564.65" y2="2535.1" stroke="#b3b3b3" stroke-width="1.9"/>
<text x="564.65" y="2556.8" font-size="18.4" fill="#4d4d4d" text-anchor="middle">15</text>
<line x1="700.8" y1="2523.6" x2="700.8" y2="2535.1" stroke="#b3b3b3" stroke-width="1.9"/>
<text x="700.8" y="2556.8" font-size="18.4" fill="#4d4d4d" text-anchor="middle">20</text>
<text x="423.75" y="1969.7" font-size="27.08" fill="#4d4d4d" text-anchor="middle">British Columbia</text>
<line x1="833.88" y1="1990.9" x2="833.88" y2="2523.6" stroke="#d8d8d8" stroke-width="0.95"/>
<line x1="970.02" y1="1990.9" x2="970.02" y2="2523.6" stroke="#d8d8d8" stroke-width="0.95"/>
<line x1="1106.17" y1="1990.9" x2="1106.17" y2="2523.6" stroke="#d8d8d8" stroke-width="0.95"/>
<line x1="1242.33" y1="1990.9" x2="1242.33" y2="2523.6" stroke="#d8d8d8" stroke-width="0.95"/>
<line x1="740.1" y1="2452.82" x2="1325.2" y2="2452.82" stroke="#d8d8d8" stroke-width="0.95"/>
<line x1="740.1" y1="2357.47" x2="1325.2" y2="2357.47" stroke="#d8d8d8" stroke-width="0.95"/>
<line x1="740.1" y1="2262.12" x2="1325.2" y2="2262.12" stroke="#d8d8d8" stroke-width="0.95"/>
<line x1="740.1" y1="2166.78" x2="1325.2" y2="2166.78" stroke="#d8d8d8" stroke-width="0.95"/>
<line x1="740.1" y1="2071.43" x2="1325.2" y2="2071.43" stroke="#d8d8d8" stroke-width="0.95"/>
<line x1="765.8" y1="1990.9" x2="765.8" y2="2523.6" stroke="#d8d8d8" stroke-width="1.95"/>
<line x1="901.95" y1="1990.9" x2="901.95" y2="2523.6" stroke="#d8d8d8" stroke-width="1.95"/>
<line x1="1038.1" y1="1990.9" x2="1038.1" y2="2523.6" stroke="#d8d8d8" stroke-width="1.95"/>
<line x1="1174.25" y1="1990.9" x2="1174.25" y2="2523.6" stroke="#d8d8d8" stroke-width="1.95"/>
<line x1="1310.4" y1="1990.9" x2="1310.4" y2="2523.6" stroke="#d8d8d8" stroke-width="1.95"/>
<line x1="740.1" y1="2500.5" x2="1325.2" y2="2500.5" stroke="#d8d8d8" stroke-width="1.95"/>
<line x1="740.1" y1="2405.15" x2="1325.2" y2="2405.15" stroke="#d8d8d8" stroke-width="1.95"/>
<line x1="740.1" y1="2309.8" x2="1325.2" y2="2309.8" stroke="#d8d8d8" stroke-width="1.95"/>
<line x1="740.1" y1="2214.45" x2="1325.2" y2="2214.45" stroke="#d8d8d8" stroke-width="1.95"/>
<line x1="740.1" y1="2119.1" x2="1325.2" y2="2119.1" stroke="#d8d8d8" stroke-width="1.95"/>
<line x1="740.1" y1="2023.75" x2="1325.2" y2="2023.75" stroke="#d8d8d8" stroke-width="1.95"/>
<g stroke="#fff" stroke-width="5.6" stroke-linejoin="miter">
<polygon points="783.05,2510.03 783.05,2490.97 765.8,2481.44 748.55,2490.97 748.55,2510.03 765.8,2519.56" fill="#84cd72"/>
<polygon points="817.55,2510.03 817.55,2490.97 800.3,2481.44 783.05,2490.97 783.05,2510.03 800.3,2519.56" fill="#84cd72"/>
<polygon points="852.05,2510.03 852.05,2490.97 834.8,2481.44 817.55,2490.97 817.55,2510.03 834.8,2519.56" fill="#80d16c"/>
<polygon points="886.55,2510.03 886.55,2490.97 869.3,2481.44 852.05,2490.97 852.05,2510.03 869.3,2519.56" fill="#95b58c"/>
<polygon points="921.05,2510.03 921.05,2490.97 903.8,2481.44 886.55,2490.97 886.55,2510.03 903.8,2519.56" fill="#9f9ea2"/>
<polygon points="955.55,2510.03 955.55,2490.97 938.3,2481.44 921.05,2490.97 921.05,2510.03 938.3,2519.56" fill="#9ba997"/>
<polygon points="990.05,2510.03 990.05,2490.97 972.8,2481.44 955.55,2490.97 955.55,2510.03 972.8,2519.56" fill="#a48cb1"/>
<polygon points="1024.55,2510.03 1024.55,2490.97 1007.3,2481.44 990.05,2490.97 990.05,2510.03 1007.3,2519.56" fill="#a65dd4"/>
<polygon points="1059.05,2510.03 1059.05,2490.97 1041.8,2481.44 1024.55,2490.97 1024.55,2510.03 1041.8,2519.56" fill="#a65dd4"/>
<polygon points="1093.55,2510.03 1093.55,2490.97 1076.3,2481.44 1059.05,2490.97 1059.05,2510.03 1076.3,2519.56" fill="#a581ba"/>
<polygon points="1128.05,2510.03 1128.05,2490.97 1110.8,2481.44 1093.55,2490.97 1093.55,2510.03 1110.8,2519.56" fill="#a66acb"/>
<polygon points="1162.55,2510.03 1162.55,2490.97 1145.3,2481.44 1128.05,2490.97 1128.05,2510.03 1145.3,2519.56" fill="#a65dd4"/>
<polygon points="800.3,2481.43 800.3,2462.37 783.05,2452.84 765.8,2462.37 765.8,2481.43 783.05,2490.96" fill="#57ed42"/>
<polygon points="834.8,2481.43 834.8,2462.37 817.55,2452.84 800.3,2462.37 800.3,2481.43 817.55,2490.96" fill="#5eea49"/>
<polygon points="869.3,2481.43 869.3,2462.37 852.05,2452.84 834.8,2462.37 834.8,2481.43 852.05,2490.96" fill="#74db5f"/>
<polygon points="903.8,2481.43 903.8,2462.37 886.55,2452.84 869.3,2462.37 869.3,2481.43 886.55,2490.96" fill="#74db5f"/>
<polygon points="938.3,2481.43 938.3,2462.37 921.05,2452.84 903.8,2462.37 903.8,2481.43 921.05,2490.96" fill="#84cd72"/>
<polygon points="972.8,2481.43 972.8,2462.37 955.55,2452.84 938.3,2462.37 938.3,2481.43 955.55,2490.96" fill="#9ba997"/>
<polygon points="1007.3,2481.43 1007.3,2462.37 990.05,2452.84 972.8,2462.37 972.8,2481.43 990.05,2490.96" fill="#a295aa"/>
<polygon points="1041.8,2481.43 1041.8,2462.37 1024.55,2452.84 1007.3,2462.37 1007.3,2481.43 1024.55,2490.96" fill="#a48cb1"/>
<polygon points="1076.3,2481.43 1076.3,2462.37 1059.05,2452.84 1041.8,2462.37 1041.8,2481.43 1059.05,2490.96" fill="#a48cb1"/>
<polygon points="1110.8,2481.43 1110.8,2462.37 1093.55,2452.84 1076.3,2462.37 1076.3,2481.43 1093.55,2490.96" fill="#9f9ea2"/>
<polygon points="1145.3,2481.43 1145.3,2462.37 1128.05,2452.84 1110.8,2462.37 1110.8,2481.43 1128.05,2490.96" fill="#9f9ea2"/>
<polygon points="1179.8,2481.43 1179.8,2462.37 1162.55,2452.84 1145.3,2462.37 1145.3,2481.43 1162.55,2490.96" fill="#a48cb1"/>
<polygon points="783.05,2452.83 783.05,2433.77 765.8,2424.24 748.55,2433.77 748.55,2452.83 765.8,2462.36" fill="#8ec17f"/>
<polygon points="817.55,2452.83 817.55,2433.77 800.3,2424.24 783.05,2433.77 783.05,2452.83 800.3,2462.36" fill="#84cd72"/>
<polygon points="852.05,2452.83 852.05,2433.77 834.8,2424.24 817.55,2433.77 817.55,2452.83 834.8,2462.36" fill="#7dd469"/>
<polygon points="886.55,2452.83 886.55,2433.77 869.3,2424.24 852.05,2433.77 852.05,2452.83 869.3,2462.36" fill="#95b58c"/>
<polygon points="921.05,2452.83 921.05,2433.77 903.8,2424.24 886.55,2433.77 886.55,2452.83 903.8,2462.36" fill="#95b58c"/>
<polygon points="955.55,2452.83 955.55,2433.77 938.3,2424.24 921.05,2433.77 921.05,2452.83 938.3,2462.36" fill="#9aac95"/>
<polygon points="990.05,2452.83 990.05,2433.77 972.8,2424.24 955.55,2433.77 955.55,2452.83 972.8,2462.36" fill="#a48cb1"/>
<polygon points="1024.55,2452.83 1024.55,2433.77 1007.3,2424.24 990.05,2433.77 990.05,2452.83 1007.3,2462.36" fill="#a66acb"/>
<polygon points="1059.05,2452.83 1059.05,2433.77 1041.8,2424.24 1024.55,2433.77 1024.55,2452.83 1041.8,2462.36" fill="#a020f0"/>
<polygon points="1093.55,2452.83 1093.55,2433.77 1076.3,2424.24 1059.05,2433.77 1059.05,2452.83 1076.3,2462.36" fill="#a677c2"/>
<polygon points="1128.05,2452.83 1128.05,2433.77 1110.8,2424.24 1093.55,2433.77 1093.55,2452.83 1110.8,2462.36" fill="#a66acb"/>
<polygon points="1162.55,2452.83 1162.55,2433.77 1145.3,2424.24 1128.05,2433.77 1128.05,2452.83 1145.3,2462.36" fill="#a65dd4"/>
<polygon points="800.3,2424.23 800.3,2405.17 783.05,2395.64 765.8,2405.17 765.8,2424.23 783.05,2433.76" fill="#84cd72"/>
<polygon points="834.8,2424.23 834.8,2405.17 817.55,2395.64 800.3,2405.17 800.3,2424.23 817.55,2433.76" fill="#84cd72"/>
<polygon points="869.3,2424.23 869.3,2405.17 852.05,2395.64 834.8,2405.17 834.8,2424.23 852.05,2433.76" fill="#88c877"/>
<polygon points="903.8,2424.23 903.8,2405.17 886.55,2395.64 869.3,2405.17 869.3,2424.23 886.55,2433.76" fill="#95b58c"/>
<polygon points="938.3,2424.23 938.3,2405.17 921.05,2395.64 903.8,2405.17 903.8,2424.23 921.05,2433.76" fill="#95b58c"/>
<polygon points="972.8,2424.23 972.8,2405.17 955.55,2395.64 938.3,2405.17 938.3,2424.23 955.55,2433.76" fill="#a197a8"/>
<polygon points="1007.3,2424.23 1007.3,2405.17 990.05,2395.64 972.8,2405.17 972.8,2424.23 990.05,2433.76" fill="#a677c2"/>
<polygon points="1041.8,2424.23 1041.8,2405.17 1024.55,2395.64 1007.3,2405.17 1007.3,2424.23 1024.55,2433.76" fill="#a677c2"/>
<polygon points="1076.3,2424.23 1076.3,2405.17 1059.05,2395.64 1041.8,2405.17 1041.8,2424.23 1059.05,2433.76" fill="#a66acb"/>
<polygon points="1110.8,2424.23 1110.8,2405.17 1093.55,2395.64 1076.3,2405.17 1076.3,2424.23 1093.55,2433.76" fill="#a677c2"/>
<polygon points="1145.3,2424.23 1145.3,2405.17 1128.05,2395.64 1110.8,2405.17 1110.8,2424.23 1128.05,2433.76" fill="#a66acb"/>
<polygon points="1179.8,2424.23 1179.8,2405.17 1162.55,2395.64 1145.3,2405.17 1145.3,2424.23 1162.55,2433.76" fill="#a66acb"/>
<polygon points="783.05,2395.63 783.05,2376.57 765.8,2367.04 748.55,2376.57 748.55,2395.63 765.8,2405.16" fill="#95b58c"/>
<polygon points="817.55,2395.63 817.55,2376.57 800.3,2367.04 783.05,2376.57 783.05,2395.63 800.3,2405.16" fill="#95b58c"/>
<polygon points="852.05,2395.63 852.05,2376.57 834.8,2367.04 817.55,2376.57 817.55,2395.63 834.8,2405.16" fill="#88c877"/>
<polygon points="886.55,2395.63 886.55,2376.57 869.3,2367.04 852.05,2376.57 852.05,2395.63 869.3,2405.16" fill="#a197a8"/>
<polygon points="921.05,2395.63 921.05,2376.57 903.8,2367.04 886.55,2376.57 886.55,2395.63 903.8,2405.16" fill="#9f9ea2"/>
<polygon points="955.55,2395.63 955.55,2376.57 938.3,2367.04 921.05,2376.57 921.05,2395.63 938.3,2405.16" fill="#9f9ea2"/>
<polygon points="990.05,2395.63 990.05,2376.57 972.8,2367.04 955.55,2376.57 955.55,2395.63 972.8,2405.16" fill="#a677c2"/>
<polygon points="1024.55,2395.63 1024.55,2376.57 1007.3,2367.04 990.05,2376.57 990.05,2395.63 1007.3,2405.16" fill="#a65dd4"/>
<polygon points="1059.05,2395.63 1059.05,2376.57 1041.8,2367.04 1024.55,2376.57 1024.55,2395.63 1041.8,2405.16" fill="#a65dd4"/>
<polygon points="1093.55,2395.63 1093.55,2376.57 1076.3,2367.04 1059.05,2376.57 1059.05,2395.63 1076.3,2405.16" fill="#a48cb1"/>
<polygon points="1128.05,2395.63 1128.05,2376.57 1110.8,2367.04 1093.55,2376.57 1093.55,2395.63 1110.8,2405.16" fill="#a66acb"/>
<polygon points="1162.55,2395.63 1162.55,2376.57 1145.3,2367.04 1128.05,2376.57 1128.05,2395.63 1145.3,2405.16" fill="#a66acb"/>
<polygon points="1197.05,2395.63 1197.05,2376.57 1179.8,2367.04 1162.55,2376.57 1162.55,2395.63 1179.8,2405.16" fill="#a65dd4"/>
<polygon points="1231.55,2395.63 1231.55,2376.57 1214.3,2367.04 1197.05,2376.57 1197.05,2395.63 1214.3,2405.16" fill="#a65dd4"/>
<polygon points="800.3,2367.03 800.3,2347.97 783.05,2338.44 765.8,2347.97 765.8,2367.03 783.05,2376.56" fill="#84cd72"/>
<polygon points="834.8,2367.03 834.8,2347.97 817.55,2338.44 800.3,2347.97 800.3,2367.03 817.55,2376.56" fill="#84cd72"/>
<polygon points="869.3,2367.03 869.3,2347.97 852.05,2338.44 834.8,2347.97 834.8,2367.03 852.05,2376.56" fill="#88c877"/>
<polygon points="903.8,2367.03 903.8,2347.97 886.55,2338.44 869.3,2347.97 869.3,2367.03 886.55,2376.56" fill="#8ec17f"/>
<polygon points="938.3,2367.03 938.3,2347.97 921.05,2338.44 903.8,2347.97 903.8,2367.03 921.05,2376.56" fill="#9ba997"/>
<polygon points="972.8,2367.03 972.8,2347.97 955.55,2338.44 938.3,2347.97 938.3,2367.03 955.55,2376.56" fill="#9f9ea2"/>
<polygon points="1007.3,2367.03 1007.3,2347.97 990.05,2338.44 972.8,2347.97 972.8,2367.03 990.05,2376.56" fill="#9f9ea2"/>
<polygon points="1041.8,2367.03 1041.8,2347.97 1024.55,2338.44 1007.3,2347.97 1007.3,2367.03 1024.55,2376.56" fill="#9ba997"/>
<polygon points="1076.3,2367.03 1076.3,2347.97 1059.05,2338.44 1041.8,2347.97 1041.8,2367.03 1059.05,2376.56" fill="#9ba997"/>
<polygon points="1110.8,2367.03 1110.8,2347.97 1093.55,2338.44 1076.3,2347.97 1076.3,2367.03 1093.55,2376.56" fill="#95b58c"/>
<polygon points="1145.3,2367.03 1145.3,2347.97 1128.05,2338.44 1110.8,2347.97 1110.8,2367.03 1128.05,2376.56" fill="#9ba997"/>
<polygon points="1179.8,2367.03 1179.8,2347.97 1162.55,2338.44 1145.3,2347.97 1145.3,2367.03 1162.55,2376.56" fill="#9ba997"/>
<polygon points="1214.3,2367.03 1214.3,2347.97 1197.05,2338.44 1179.8,2347.97 1179.8,2367.03 1197.05,2376.56" fill="#9f9ea2"/>
<polygon points="1248.8,2367.03 1248.8,2347.97 1231.55,2338.44 1214.3,2347.97 1214.3,2367.03 1231.55,2376.56" fill="#a48cb1"/>
<polygon points="1283.3,2367.03 1283.3,2347.97 1266.05,2338.44 1248.8,2347.97 1248.8,2367.03 1266.05,2376.56" fill="#a66acb"/>
<polygon points="783.05,2338.43 783.05,2319.37 765.8,2309.84 748.55,2319.37 748.55,2338.43 765.8,2347.96" fill="#9ba997"/>
<polygon points="817.55,2338.43 817.55,2319.37 800.3,2309.84 783.05,2319.37 783.05,2338.43 800.3,2347.96" fill="#95b58c"/>
<polygon points="852.05,2338.43 852.05,2319.37 834.8,2309.84 817.55,2319.37 817.55,2338.43 834.8,2347.96" fill="#8ec17f"/>
<polygon points="886.55,2338.43 886.55,2319.37 869.3,2309.84 852.05,2319.37 852.05,2338.43 869.3,2347.96" fill="#a48cb1"/>
<polygon points="921.05,2338.43 921.05,2319.37 903.8,2309.84 886.55,2319.37 886.55,2338.43 903.8,2347.96" fill="#a197a8"/>
<polygon points="955.55,2338.43 955.55,2319.37 938.3,2309.84 921.05,2319.37 921.05,2338.43 938.3,2347.96" fill="#a48cb1"/>
<polygon points="990.05,2338.43 990.05,2319.37 972.8,2309.84 955.55,2319.37 955.55,2338.43 972.8,2347.96" fill="#9f9ea2"/>
<polygon points="1024.55,2338.43 1024.55,2319.37 1007.3,2309.84 990.05,2319.37 990.05,2338.43 1007.3,2347.96" fill="#a581ba"/>
<polygon points="1059.05,2338.43 1059.05,2319.37 1041.8,2309.84 1024.55,2319.37 1024.55,2338.43 1041.8,2347.96" fill="#9f9ea2"/>
<polygon points="1093.55,2338.43 1093.55,2319.37 1076.3,2309.84 1059.05,2319.37 1059.05,2338.43 1076.3,2347.96" fill="#95b58c"/>
<polygon points="1128.05,2338.43 1128.05,2319.37 1110.8,2309.84 1093.55,2319.37 1093.55,2338.43 1110.8,2347.96" fill="#a197a8"/>
<polygon points="1162.55,2338.43 1162.55,2319.37 1145.3,2309.84 1128.05,2319.37 1128.05,2338.43 1145.3,2347.96" fill="#a197a8"/>
<polygon points="1197.05,2338.43 1197.05,2319.37 1179.8,2309.84 1162.55,2319.37 1162.55,2338.43 1179.8,2347.96" fill="#9f9ea2"/>
<polygon points="1231.55,2338.43 1231.55,2319.37 1214.3,2309.84 1197.05,2319.37 1197.05,2338.43 1214.3,2347.96" fill="#9f9ea2"/>
<polygon points="1266.05,2338.43 1266.05,2319.37 1248.8,2309.84 1231.55,2319.37 1231.55,2338.43 1248.8,2347.96" fill="#a65dd4"/>
<polygon points="800.3,2309.83 800.3,2290.77 783.05,2281.24 765.8,2290.77 765.8,2309.83 783.05,2319.36" fill="#84cd72"/>
<polygon points="834.8,2309.83 834.8,2290.77 817.55,2281.24 800.3,2290.77 800.3,2309.83 817.55,2319.36" fill="#88c877"/>
<polygon points="869.3,2309.83 869.3,2290.77 852.05,2281.24 834.8,2290.77 834.8,2309.83 852.05,2319.36" fill="#95b58c"/>
<polygon points="903.8,2309.83 903.8,2290.77 886.55,2281.24 869.3,2290.77 869.3,2309.83 886.55,2319.36" fill="#95b58c"/>
<polygon points="938.3,2309.83 938.3,2290.77 921.05,2281.24 903.8,2290.77 903.8,2309.83 921.05,2319.36" fill="#a48cb1"/>
<polygon points="972.8,2309.83 972.8,2290.77 955.55,2281.24 938.3,2290.77 938.3,2309.83 955.55,2319.36" fill="#a48cb1"/>
<polygon points="1007.3,2309.83 1007.3,2290.77 990.05,2281.24 972.8,2290.77 972.8,2309.83 990.05,2319.36" fill="#a48cb1"/>
<polygon points="1041.8,2309.83 1041.8,2290.77 1024.55,2281.24 1007.3,2290.77 1007.3,2309.83 1024.55,2319.36" fill="#9f9ea2"/>
<polygon points="1076.3,2309.83 1076.3,2290.77 1059.05,2281.24 1041.8,2290.77 1041.8,2309.83 1059.05,2319.36" fill="#9f9ea2"/>
<polygon points="1110.8,2309.83 1110.8,2290.77 1093.55,2281.24 1076.3,2290.77 1076.3,2309.83 1093.55,2319.36" fill="#a197a8"/>
<polygon points="1145.3,2309.83 1145.3,2290.77 1128.05,2281.24 1110.8,2290.77 1110.8,2309.83 1128.05,2319.36" fill="#9f9ea2"/>
<polygon points="1179.8,2309.83 1179.8,2290.77 1162.55,2281.24 1145.3,2290.77 1145.3,2309.83 1162.55,2319.36" fill="#95b58c"/>
<polygon points="1214.3,2309.83 1214.3,2290.77 1197.05,2281.24 1179.8,2290.77 1179.8,2309.83 1197.05,2319.36" fill="#a197a8"/>
<polygon points="1248.8,2309.83 1248.8,2290.77 1231.55,2281.24 1214.3,2290.77 1214.3,2309.83 1231.55,2319.36" fill="#a48cb1"/>
<polygon points="1283.3,2309.83 1283.3,2290.77 1266.05,2281.24 1248.8,2290.77 1248.8,2309.83 1266.05,2319.36" fill="#a677c2"/>
<polygon points="783.05,2281.23 783.05,2262.17 765.8,2252.64 748.55,2262.17 748.55,2281.23 765.8,2290.76" fill="#9ba997"/>
<polygon points="817.55,2281.23 817.55,2262.17 800.3,2252.64 783.05,2262.17 783.05,2281.23 800.3,2290.76" fill="#9aac95"/>
<polygon points="852.05,2281.23 852.05,2262.17 834.8,2252.64 817.55,2262.17 817.55,2281.23 834.8,2290.76" fill="#95b58c"/>
<polygon points="886.55,2281.23 886.55,2262.17 869.3,2252.64 852.05,2262.17 852.05,2281.23 869.3,2290.76" fill="#a48cb1"/>
<polygon points="921.05,2281.23 921.05,2262.17 903.8,2252.64 886.55,2262.17 886.55,2281.23 903.8,2290.76" fill="#a65dd4"/>
<polygon points="955.55,2281.23 955.55,2262.17 938.3,2252.64 921.05,2262.17 921.05,2281.23 938.3,2290.76" fill="#a677c2"/>
<polygon points="990.05,2281.23 990.05,2262.17 972.8,2252.64 955.55,2262.17 955.55,2281.23 972.8,2290.76" fill="#a584b8"/>
<polygon points="1024.55,2281.23 1024.55,2262.17 1007.3,2252.64 990.05,2262.17 990.05,2281.23 1007.3,2290.76" fill="#a677c2"/>
<polygon points="1059.05,2281.23 1059.05,2262.17 1041.8,2252.64 1024.55,2262.17 1024.55,2281.23 1041.8,2290.76" fill="#a48cb1"/>
<polygon points="1093.55,2281.23 1093.55,2262.17 1076.3,2252.64 1059.05,2262.17 1059.05,2281.23 1076.3,2290.76" fill="#a197a8"/>
<polygon points="1128.05,2281.23 1128.05,2262.17 1110.8,2252.64 1093.55,2262.17 1093.55,2281.23 1110.8,2290.76" fill="#a581ba"/>
<polygon points="1162.55,2281.23 1162.55,2262.17 1145.3,2252.64 1128.05,2262.17 1128.05,2281.23 1145.3,2290.76" fill="#a677c2"/>
<polygon points="1197.05,2281.23 1197.05,2262.17 1179.8,2252.64 1162.55,2262.17 1162.55,2281.23 1179.8,2290.76" fill="#a65dd4"/>
<polygon points="1231.55,2281.23 1231.55,2262.17 1214.3,2252.64 1197.05,2262.17 1197.05,2281.23 1214.3,2290.76" fill="#a65dd4"/>
<polygon points="1266.05,2281.23 1266.05,2262.17 1248.8,2252.64 1231.55,2262.17 1231.55,2281.23 1248.8,2290.76" fill="#a444e2"/>
<polygon points="800.3,2252.63 800.3,2233.57 783.05,2224.04 765.8,2233.57 765.8,2252.63 783.05,2262.16" fill="#95b58c"/>
<polygon points="834.8,2252.63 834.8,2233.57 817.55,2224.04 800.3,2233.57 800.3,2252.63 817.55,2262.16" fill="#9aac95"/>
<polygon points="869.3,2252.63 869.3,2233.57 852.05,2224.04 834.8,2233.57 834.8,2252.63 852.05,2262.16" fill="#9ca799"/>
<polygon points="903.8,2252.63 903.8,2233.57 886.55,2224.04 869.3,2233.57 869.3,2252.63 886.55,2262.16" fill="#a48cb1"/>
<polygon points="938.3,2252.63 938.3,2233.57 921.05,2224.04 903.8,2233.57 903.8,2252.63 921.05,2262.16" fill="#a66acb"/>
<polygon points="972.8,2252.63 972.8,2233.57 955.55,2224.04 938.3,2233.57 938.3,2252.63 955.55,2262.16" fill="#a581ba"/>
<polygon points="1007.3,2252.63 1007.3,2233.57 990.05,2224.04 972.8,2233.57 972.8,2252.63 990.05,2262.16" fill="#a66acb"/>
<polygon points="1041.8,2252.63 1041.8,2233.57 1024.55,2224.04 1007.3,2233.57 1007.3,2252.63 1024.55,2262.16" fill="#a48cb1"/>
<polygon points="1076.3,2252.63 1076.3,2233.57 1059.05,2224.04 1041.8,2233.57 1041.8,2252.63 1059.05,2262.16" fill="#a581ba"/>
<polygon points="1110.8,2252.63 1110.8,2233.57 1093.55,2224.04 1076.3,2233.57 1076.3,2252.63 1093.55,2262.16" fill="#a677c2"/>
<polygon points="1145.3,2252.63 1145.3,2233.57 1128.05,2224.04 1110.8,2233.57 1110.8,2252.63 1128.05,2262.16" fill="#a677c2"/>
<polygon points="1179.8,2252.63 1179.8,2233.57 1162.55,2224.04 1145.3,2233.57 1145.3,2252.63 1162.55,2262.16" fill="#a581ba"/>
<polygon points="1214.3,2252.63 1214.3,2233.57 1197.05,2224.04 1179.8,2233.57 1179.8,2252.63 1197.05,2262.16" fill="#a66acb"/>
<polygon points="1248.8,2252.63 1248.8,2233.57 1231.55,2224.04 1214.3,2233.57 1214.3,2252.63 1231.55,2262.16" fill="#a677c2"/>
<polygon points="1283.3,2252.63 1283.3,2233.57 1266.05,2224.04 1248.8,2233.57 1248.8,2252.63 1266.05,2262.16" fill="#a65dd4"/>
<polygon points="783.05,2224.03 783.05,2204.97 765.8,2195.44 748.55,2204.97 748.55,2224.03 765.8,2233.56" fill="#a581ba"/>
<polygon points="817.55,2224.03 817.55,2204.97 800.3,2195.44 783.05,2204.97 783.05,2224.03 800.3,2233.56" fill="#a581ba"/>
<polygon points="852.05,2224.03 852.05,2204.97 834.8,2195.44 817.55,2204.97 817.55,2224.03 834.8,2233.56" fill="#a48cb1"/>
<polygon points="886.55,2224.03 886.55,2204.97 869.3,2195.44 852.05,2204.97 852.05,2224.03 869.3,2233.56" fill="#a65dd4"/>
<polygon points="921.05,2224.03 921.05,2204.97 903.8,2195.44 886.55,2204.97 886.55,2224.03 903.8,2233.56" fill="#a65dd4"/>
<polygon points="990.05,2224.03 990.05,2204.97 972.8,2195.44 955.55,2204.97 955.55,2224.03 972.8,2233.56" fill="#a020f0"/>
<polygon points="1059.05,2224.03 1059.05,2204.97 1041.8,2195.44 1024.55,2204.97 1024.55,2224.03 1041.8,2233.56" fill="#a65dd4"/>
<polygon points="1093.55,2224.03 1093.55,2204.97 1076.3,2195.44 1059.05,2204.97 1059.05,2224.03 1076.3,2233.56" fill="#a020f0"/>
<polygon points="1128.05,2224.03 1128.05,2204.97 1110.8,2195.44 1093.55,2204.97 1093.55,2224.03 1110.8,2233.56" fill="#a65dd4"/>
<polygon points="1162.55,2224.03 1162.55,2204.97 1145.3,2195.44 1128.05,2204.97 1128.05,2224.03 1145.3,2233.56" fill="#a020f0"/>
<polygon points="1231.55,2224.03 1231.55,2204.97 1214.3,2195.44 1197.05,2204.97 1197.05,2224.03 1214.3,2233.56" fill="#a020f0"/>
<polygon points="800.3,2195.43 800.3,2176.37 783.05,2166.84 765.8,2176.37 765.8,2195.43 783.05,2204.96" fill="#a295aa"/>
<polygon points="834.8,2195.43 834.8,2176.37 817.55,2166.84 800.3,2176.37 800.3,2195.43 817.55,2204.96" fill="#a581ba"/>
<polygon points="869.3,2195.43 869.3,2176.37 852.05,2166.84 834.8,2176.37 834.8,2195.43 852.05,2204.96" fill="#a581ba"/>
<polygon points="903.8,2195.43 903.8,2176.37 886.55,2166.84 869.3,2176.37 869.3,2195.43 886.55,2204.96" fill="#a66acb"/>
<polygon points="1076.3,2195.43 1076.3,2176.37 1059.05,2166.84 1041.8,2176.37 1041.8,2195.43 1059.05,2204.96" fill="#a020f0"/>
<polygon points="1145.3,2195.43 1145.3,2176.37 1128.05,2166.84 1110.8,2176.37 1110.8,2195.43 1128.05,2204.96" fill="#a65dd4"/>
<polygon points="1283.3,2195.43 1283.3,2176.37 1266.05,2166.84 1248.8,2176.37 1248.8,2195.43 1266.05,2204.96" fill="#a020f0"/>
<polygon points="783.05,2166.83 783.05,2147.77 765.8,2138.24 748.55,2147.77 748.55,2166.83 765.8,2176.36" fill="#a677c2"/>
<polygon points="817.55,2166.83 817.55,2147.77 800.3,2138.24 783.05,2147.77 783.05,2166.83 800.3,2176.36" fill="#a65dd4"/>
<polygon points="852.05,2166.83 852.05,2147.77 834.8,2138.24 817.55,2147.77 817.55,2166.83 834.8,2176.36" fill="#a677c2"/>
<polygon points="886.55,2166.83 886.55,2147.77 869.3,2138.24 852.05,2147.77 852.05,2166.83 869.3,2176.36" fill="#a66acb"/>
<polygon points="800.3,2138.23 800.3,2119.17 783.05,2109.64 765.8,2119.17 765.8,2138.23 783.05,2147.76" fill="#a66dca"/>
<polygon points="834.8,2138.23 834.8,2119.17 817.55,2109.64 800.3,2119.17 800.3,2138.23 817.55,2147.76" fill="#a66acb"/>
<polygon points="869.3,2138.23 869.3,2119.17 852.05,2109.64 834.8,2119.17 834.8,2138.23 852.05,2147.76" fill="#a020f0"/>
<polygon points="903.8,2138.23 903.8,2119.17 886.55,2109.64 869.3,2119.17 869.3,2138.23 886.55,2147.76" fill="#a65dd4"/>
<polygon points="783.05,2109.63 783.05,2090.57 765.8,2081.04 748.55,2090.57 748.55,2109.63 765.8,2119.16" fill="#a020f0"/>
<polygon points="817.55,2109.63 817.55,2090.57 800.3,2081.04 783.05,2090.57 783.05,2109.63 800.3,2119.16" fill="#a65dd4"/>
<polygon points="852.05,2109.63 852.05,2090.57 834.8,2081.04 817.55,2090.57 817.55,2109.63 834.8,2119.16" fill="#a65dd4"/>
<polygon points="886.55,2109.63 886.55,2090.57 869.3,2081.04 852.05,2090.57 852.05,2109.63 869.3,2119.16" fill="#a020f0"/>
<polygon points="834.8,2081.03 834.8,2061.97 817.55,2052.44 800.3,2061.97 800.3,2081.03 817.55,2090.56" fill="#a020f0"/>
<polygon points="903.8,2081.03 903.8,2061.97 886.55,2052.44 869.3,2061.97 869.3,2081.03 886.55,2090.56" fill="#a020f0"/>
<polygon points="886.55,2052.43 886.55,2033.37 869.3,2023.84 852.05,2033.37 852.05,2052.43 869.3,2061.96" fill="#a020f0"/>
<polygon points="834.8,2023.83 834.8,2004.77 817.55,1995.24 800.3,2004.77 800.3,2023.83 817.55,2033.36" fill="#a020f0"/>
<polygon points="869.3,2023.83 869.3,2004.77 852.05,1995.24 834.8,2004.77 834.8,2023.83 852.05,2033.36" fill="#a020f0"/>
</g>
<line x1="765.8" y1="2429.5" x2="1254.6" y2="2330.9" stroke="#000" stroke-width="8.8"/>
<rect x="740.1" y="1990.9" width="585.1" height="532.7" fill="none" stroke="#b3b3b3" stroke-width="2.1"/>
<line x1="765.8" y1="2523.6" x2="765.8" y2="2535.1" stroke="#b3b3b3" stroke-width="1.9"/>
<text x="765.8" y="2556.8" font-size="18.4" fill="#4d4d4d" text-anchor="middle">0</text>
<line x1="901.95" y1="2523.6" x2="901.95" y2="2535.1" stroke="#b3b3b3" stroke-width="1.9"/>
<text x="901.95" y="2556.8" font-size="18.4" fill="#4d4d4d" text-anchor="middle">5</text>
<line x1="1038.1" y1="2523.6" x2="1038.1" y2="2535.1" stroke="#b3b3b3" stroke-width="1.9"/>
<text x="1038.1" y="2556.8" font-size="18.4" fill="#4d4d4d" text-anchor="middle">10</text>
<line x1="1174.25" y1="2523.6" x2="1174.25" y2="2535.1" stroke="#b3b3b3" stroke-width="1.9"/>
<text x="1174.25" y="2556.8" font-size="18.4" fill="#4d4d4d" text-anchor="middle">15</text>
<line x1="1310.4" y1="2523.6" x2="1310.4" y2="2535.1" stroke="#b3b3b3" stroke-width="1.9"/>
<text x="1310.4" y="2556.8" font-size="18.4" fill="#4d4d4d" text-anchor="middle">20</text>
<text x="1032.65" y="1969.7" font-size="27.08" fill="#4d4d4d" text-anchor="middle">British Columbia v.s. England</text>
<line x1="1441.88" y1="1990.9" x2="1441.88" y2="2523.6" stroke="#d8d8d8" stroke-width="0.95"/>
<line x1="1578.02" y1="1990.9" x2="1578.02" y2="2523.6" stroke="#d8d8d8" stroke-width="0.95"/>
<line x1="1714.17" y1="1990.9" x2="1714.17" y2="2523.6" stroke="#d8d8d8" stroke-width="0.95"/>
<line x1="1850.33" y1="1990.9" x2="1850.33" y2="2523.6" stroke="#d8d8d8" stroke-width="0.95"/>
<line x1="1348.5" y1="2452.82" x2="1934" y2="2452.82" stroke="#d8d8d8" stroke-width="0.95"/>
<line x1="1348.5" y1="2357.47" x2="1934" y2="2357.47" stroke="#d8d8d8" stroke-width="0.95"/>
<line x1="1348.5" y1="2262.12" x2="1934" y2="2262.12" stroke="#d8d8d8" stroke-width="0.95"/>
<line x1="1348.5" y1="2166.78" x2="1934" y2="2166.78" stroke="#d8d8d8" stroke-width="0.95"/>
<line x1="1348.5" y1="2071.43" x2="1934" y2="2071.43" stroke="#d8d8d8" stroke-width="0.95"/>
<line x1="1373.8" y1="1990.9" x2="1373.8" y2="2523.6" stroke="#d8d8d8" stroke-width="1.95"/>
<line x1="1509.95" y1="1990.9" x2="1509.95" y2="2523.6" stroke="#d8d8d8" stroke-width="1.95"/>
<line x1="1646.1" y1="1990.9" x2="1646.1" y2="2523.6" stroke="#d8d8d8" stroke-width="1.95"/>
<line x1="1782.25" y1="1990.9" x2="1782.25" y2="2523.6" stroke="#d8d8d8" stroke-width="1.95"/>
<line x1="1918.4" y1="1990.9" x2="1918.4" y2="2523.6" stroke="#d8d8d8" stroke-width="1.95"/>
<line x1="1348.5" y1="2500.5" x2="1934" y2="2500.5" stroke="#d8d8d8" stroke-width="1.95"/>
<line x1="1348.5" y1="2405.15" x2="1934" y2="2405.15" stroke="#d8d8d8" stroke-width="1.95"/>
<line x1="1348.5" y1="2309.8" x2="1934" y2="2309.8" stroke="#d8d8d8" stroke-width="1.95"/>
<line x1="1348.5" y1="2214.45" x2="1934" y2="2214.45" stroke="#d8d8d8" stroke-width="1.95"/>
<line x1="1348.5" y1="2119.1" x2="1934" y2="2119.1" stroke="#d8d8d8" stroke-width="1.95"/>
<line x1="1348.5" y1="2023.75" x2="1934" y2="2023.75" stroke="#d8d8d8" stroke-width="1.95"/>
<g stroke="#fff" stroke-width="5.6" stroke-linejoin="miter">
<polygon points="1391.05,2510.03 1391.05,2490.97 1373.8,2481.44 1356.55,2490.97 1356.55,2510.03 1373.8,2519.56" fill="#74db5f"/>
<polygon points="1425.55,2510.03 1425.55,2490.97 1408.3,2481.44 1391.05,2490.97 1391.05,2510.03 1408.3,2519.56" fill="#84cd72"/>
<polygon points="1460.05,2510.03 1460.05,2490.97 1442.8,2481.44 1425.55,2490.97 1425.55,2510.03 1442.8,2519.56" fill="#7dd469"/>
<polygon points="1494.55,2510.03 1494.55,2490.97 1477.3,2481.44 1460.05,2490.97 1460.05,2510.03 1477.3,2519.56" fill="#95b58c"/>
<polygon points="1529.05,2510.03 1529.05,2490.97 1511.8,2481.44 1494.55,2490.97 1494.55,2510.03 1511.8,2519.56" fill="#9ba997"/>
<polygon points="1563.55,2510.03 1563.55,2490.97 1546.3,2481.44 1529.05,2490.97 1529.05,2510.03 1546.3,2519.56" fill="#a584b8"/>
<polygon points="1408.3,2481.43 1408.3,2462.37 1391.05,2452.84 1373.8,2462.37 1373.8,2481.43 1391.05,2490.96" fill="#00ff00"/>
<polygon points="1442.8,2481.43 1442.8,2462.37 1425.55,2452.84 1408.3,2462.37 1408.3,2481.43 1425.55,2490.96" fill="#57ed42"/>
<polygon points="1477.3,2481.43 1477.3,2462.37 1460.05,2452.84 1442.8,2462.37 1442.8,2481.43 1460.05,2490.96" fill="#61e84c"/>
<polygon points="1511.8,2481.43 1511.8,2462.37 1494.55,2452.84 1477.3,2462.37 1477.3,2481.43 1494.55,2490.96" fill="#57ed42"/>
<polygon points="1546.3,2481.43 1546.3,2462.37 1529.05,2452.84 1511.8,2462.37 1511.8,2481.43 1529.05,2490.96" fill="#84cd72"/>
<polygon points="1391.05,2452.83 1391.05,2433.77 1373.8,2424.24 1356.55,2433.77 1356.55,2452.83 1373.8,2462.36" fill="#6ae355"/>
<polygon points="1425.55,2452.83 1425.55,2433.77 1408.3,2424.24 1391.05,2433.77 1391.05,2452.83 1408.3,2462.36" fill="#64e64f"/>
<polygon points="1460.05,2452.83 1460.05,2433.77 1442.8,2424.24 1425.55,2433.77 1425.55,2452.83 1442.8,2462.36" fill="#6ae355"/>
<polygon points="1494.55,2452.83 1494.55,2433.77 1477.3,2424.24 1460.05,2433.77 1460.05,2452.83 1477.3,2462.36" fill="#84cd72"/>
<polygon points="1529.05,2452.83 1529.05,2433.77 1511.8,2424.24 1494.55,2433.77 1494.55,2452.83 1511.8,2462.36" fill="#8ac67a"/>
<polygon points="1563.55,2452.83 1563.55,2433.77 1546.3,2424.24 1529.05,2433.77 1529.05,2452.83 1546.3,2462.36" fill="#9f9ea2"/>
<polygon points="1408.3,2424.23 1408.3,2405.17 1391.05,2395.64 1373.8,2405.17 1373.8,2424.23 1391.05,2433.76" fill="#57ed42"/>
<polygon points="1442.8,2424.23 1442.8,2405.17 1425.55,2395.64 1408.3,2405.17 1408.3,2424.23 1425.55,2433.76" fill="#74db5f"/>
<polygon points="1477.3,2424.23 1477.3,2405.17 1460.05,2395.64 1442.8,2405.17 1442.8,2424.23 1460.05,2433.76" fill="#74db5f"/>
<polygon points="1511.8,2424.23 1511.8,2405.17 1494.55,2395.64 1477.3,2405.17 1477.3,2424.23 1494.55,2433.76" fill="#5eea49"/>
<polygon points="1546.3,2424.23 1546.3,2405.17 1529.05,2395.64 1511.8,2405.17 1511.8,2424.23 1529.05,2433.76" fill="#8fbe82"/>
<polygon points="1391.05,2395.63 1391.05,2376.57 1373.8,2367.04 1356.55,2376.57 1356.55,2395.63 1373.8,2405.16" fill="#74db5f"/>
<polygon points="1425.55,2395.63 1425.55,2376.57 1408.3,2367.04 1391.05,2376.57 1391.05,2395.63 1408.3,2405.16" fill="#78d863"/>
<polygon points="1460.05,2395.63 1460.05,2376.57 1442.8,2367.04 1425.55,2376.57 1425.55,2395.63 1442.8,2405.16" fill="#74db5f"/>
<polygon points="1494.55,2395.63 1494.55,2376.57 1477.3,2367.04 1460.05,2376.57 1460.05,2395.63 1477.3,2405.16" fill="#8ec17f"/>
<polygon points="1529.05,2395.63 1529.05,2376.57 1511.8,2367.04 1494.55,2376.57 1494.55,2395.63 1511.8,2405.16" fill="#95b58c"/>
<polygon points="1563.55,2395.63 1563.55,2376.57 1546.3,2367.04 1529.05,2376.57 1529.05,2395.63 1546.3,2405.16" fill="#9f9ea2"/>
<polygon points="1408.3,2367.03 1408.3,2347.97 1391.05,2338.44 1373.8,2347.97 1373.8,2367.03 1391.05,2376.56" fill="#57ed42"/>
<polygon points="1442.8,2367.03 1442.8,2347.97 1425.55,2338.44 1408.3,2347.97 1408.3,2367.03 1425.55,2376.56" fill="#74db5f"/>
<polygon points="1477.3,2367.03 1477.3,2347.97 1460.05,2338.44 1442.8,2347.97 1442.8,2367.03 1460.05,2376.56" fill="#74db5f"/>
<polygon points="1511.8,2367.03 1511.8,2347.97 1494.55,2338.44 1477.3,2347.97 1477.3,2367.03 1494.55,2376.56" fill="#6ae355"/>
<polygon points="1546.3,2367.03 1546.3,2347.97 1529.05,2338.44 1511.8,2347.97 1511.8,2367.03 1529.05,2376.56" fill="#98b090"/>
<polygon points="1391.05,2338.43 1391.05,2319.37 1373.8,2309.84 1356.55,2319.37 1356.55,2338.43 1373.8,2347.96" fill="#78d863"/>
<polygon points="1425.55,2338.43 1425.55,2319.37 1408.3,2309.84 1391.05,2319.37 1391.05,2338.43 1408.3,2347.96" fill="#78d863"/>
<polygon points="1460.05,2338.43 1460.05,2319.37 1442.8,2309.84 1425.55,2319.37 1425.55,2338.43 1442.8,2347.96" fill="#78d863"/>
<polygon points="1494.55,2338.43 1494.55,2319.37 1477.3,2309.84 1460.05,2319.37 1460.05,2338.43 1477.3,2347.96" fill="#88c877"/>
<polygon points="1529.05,2338.43 1529.05,2319.37 1511.8,2309.84 1494.55,2319.37 1494.55,2338.43 1511.8,2347.96" fill="#9ba997"/>
<polygon points="1563.55,2338.43 1563.55,2319.37 1546.3,2309.84 1529.05,2319.37 1529.05,2338.43 1546.3,2347.96" fill="#a581ba"/>
<polygon points="1408.3,2309.83 1408.3,2290.77 1391.05,2281.24 1373.8,2290.77 1373.8,2309.83 1391.05,2319.36" fill="#74db5f"/>
<polygon points="1442.8,2309.83 1442.8,2290.77 1425.55,2281.24 1408.3,2290.77 1408.3,2309.83 1425.55,2319.36" fill="#7dd469"/>
<polygon points="1477.3,2309.83 1477.3,2290.77 1460.05,2281.24 1442.8,2290.77 1442.8,2309.83 1460.05,2319.36" fill="#84cd72"/>
<polygon points="1511.8,2309.83 1511.8,2290.77 1494.55,2281.24 1477.3,2290.77 1477.3,2309.83 1494.55,2319.36" fill="#7dd469"/>
<polygon points="1546.3,2309.83 1546.3,2290.77 1529.05,2281.24 1511.8,2290.77 1511.8,2309.83 1529.05,2319.36" fill="#9ba997"/>
<polygon points="1391.05,2281.23 1391.05,2262.17 1373.8,2252.64 1356.55,2262.17 1356.55,2281.23 1373.8,2290.76" fill="#8ec17f"/>
<polygon points="1425.55,2281.23 1425.55,2262.17 1408.3,2252.64 1391.05,2262.17 1391.05,2281.23 1408.3,2290.76" fill="#84cd72"/>
<polygon points="1460.05,2281.23 1460.05,2262.17 1442.8,2252.64 1425.55,2262.17 1425.55,2281.23 1442.8,2290.76" fill="#84cd72"/>
<polygon points="1494.55,2281.23 1494.55,2262.17 1477.3,2252.64 1460.05,2262.17 1460.05,2281.23 1477.3,2290.76" fill="#9ba997"/>
<polygon points="1529.05,2281.23 1529.05,2262.17 1511.8,2252.64 1494.55,2262.17 1494.55,2281.23 1511.8,2290.76" fill="#9f9ea2"/>
<polygon points="1563.55,2281.23 1563.55,2262.17 1546.3,2252.64 1529.05,2262.17 1529.05,2281.23 1546.3,2290.76" fill="#a197a8"/>
<polygon points="1408.3,2252.63 1408.3,2233.57 1391.05,2224.04 1373.8,2233.57 1373.8,2252.63 1391.05,2262.16" fill="#78d863"/>
<polygon points="1442.8,2252.63 1442.8,2233.57 1425.55,2224.04 1408.3,2233.57 1408.3,2252.63 1425.55,2262.16" fill="#84cd72"/>
<polygon points="1477.3,2252.63 1477.3,2233.57 1460.05,2224.04 1442.8,2233.57 1442.8,2252.63 1460.05,2262.16" fill="#8ec17f"/>
<polygon points="1511.8,2252.63 1511.8,2233.57 1494.55,2224.04 1477.3,2233.57 1477.3,2252.63 1494.55,2262.16" fill="#95b58c"/>
<polygon points="1546.3,2252.63 1546.3,2233.57 1529.05,2224.04 1511.8,2233.57 1511.8,2252.63 1529.05,2262.16" fill="#a48cb1"/>
<polygon points="1391.05,2224.03 1391.05,2204.97 1373.8,2195.44 1356.55,2204.97 1356.55,2224.03 1373.8,2233.56" fill="#9aac95"/>
<polygon points="1425.55,2224.03 1425.55,2204.97 1408.3,2195.44 1391.05,2204.97 1391.05,2224.03 1408.3,2233.56" fill="#9aac95"/>
<polygon points="1460.05,2224.03 1460.05,2204.97 1442.8,2195.44 1425.55,2204.97 1425.55,2224.03 1442.8,2233.56" fill="#9aac95"/>
<polygon points="1494.55,2224.03 1494.55,2204.97 1477.3,2195.44 1460.05,2204.97 1460.05,2224.03 1477.3,2233.56" fill="#a65dd4"/>
<polygon points="1529.05,2224.03 1529.05,2204.97 1511.8,2195.44 1494.55,2204.97 1494.55,2224.03 1511.8,2233.56" fill="#a677c2"/>
<polygon points="1563.55,2224.03 1563.55,2204.97 1546.3,2195.44 1529.05,2204.97 1529.05,2224.03 1546.3,2233.56" fill="#a65dd4"/>
<polygon points="1408.3,2195.43 1408.3,2176.37 1391.05,2166.84 1373.8,2176.37 1373.8,2195.43 1391.05,2204.96" fill="#95b58c"/>
<polygon points="1442.8,2195.43 1442.8,2176.37 1425.55,2166.84 1408.3,2176.37 1408.3,2195.43 1425.55,2204.96" fill="#9f9ea2"/>
<polygon points="1477.3,2195.43 1477.3,2176.37 1460.05,2166.84 1442.8,2176.37 1442.8,2195.43 1460.05,2204.96" fill="#a197a8"/>
<polygon points="1511.8,2195.43 1511.8,2176.37 1494.55,2166.84 1477.3,2176.37 1477.3,2195.43 1494.55,2204.96" fill="#a677c2"/>
<polygon points="1546.3,2195.43 1546.3,2176.37 1529.05,2166.84 1511.8,2176.37 1511.8,2195.43 1529.05,2204.96" fill="#a677c2"/>
<polygon points="1391.05,2166.83 1391.05,2147.77 1373.8,2138.24 1356.55,2147.77 1356.55,2166.83 1373.8,2176.36" fill="#a48cb1"/>
<polygon points="1425.55,2166.83 1425.55,2147.77 1408.3,2138.24 1391.05,2147.77 1391.05,2166.83 1408.3,2176.36" fill="#a197a8"/>
<polygon points="1460.05,2166.83 1460.05,2147.77 1442.8,2138.24 1425.55,2147.77 1425.55,2166.83 1442.8,2176.36" fill="#a197a8"/>
<polygon points="1408.3,2138.23 1408.3,2119.17 1391.05,2109.64 1373.8,2119.17 1373.8,2138.23 1391.05,2147.76" fill="#9f9ea2"/>
<polygon points="1442.8,2138.23 1442.8,2119.17 1425.55,2109.64 1408.3,2119.17 1408.3,2138.23 1425.55,2147.76" fill="#a48cb1"/>
<polygon points="1477.3,2138.23 1477.3,2119.17 1460.05,2109.64 1442.8,2119.17 1442.8,2138.23 1460.05,2147.76" fill="#a677c2"/>
<polygon points="1391.05,2109.63 1391.05,2090.57 1373.8,2081.04 1356.55,2090.57 1356.55,2109.63 1373.8,2119.16" fill="#a677c2"/>
<polygon points="1425.55,2109.63 1425.55,2090.57 1408.3,2081.04 1391.05,2090.57 1391.05,2109.63 1408.3,2119.16" fill="#a581ba"/>
<polygon points="1460.05,2109.63 1460.05,2090.57 1442.8,2081.04 1425.55,2090.57 1425.55,2109.63 1442.8,2119.16" fill="#a66acb"/>
<polygon points="1494.55,2109.63 1494.55,2090.57 1477.3,2081.04 1460.05,2090.57 1460.05,2109.63 1477.3,2119.16" fill="#a65dd4"/>
<polygon points="1408.3,2081.03 1408.3,2061.97 1391.05,2052.44 1373.8,2061.97 1373.8,2081.03 1391.05,2090.56" fill="#a48cb1"/>
<polygon points="1442.8,2081.03 1442.8,2061.97 1425.55,2052.44 1408.3,2061.97 1408.3,2081.03 1425.55,2090.56" fill="#a581ba"/>
<polygon points="1477.3,2081.03 1477.3,2061.97 1460.05,2052.44 1442.8,2061.97 1442.8,2081.03 1460.05,2090.56" fill="#a677c2"/>
<polygon points="1425.55,2052.43 1425.55,2033.37 1408.3,2023.84 1391.05,2033.37 1391.05,2052.43 1408.3,2061.96" fill="#a65dd4"/>
<polygon points="1408.3,2023.83 1408.3,2004.77 1391.05,1995.24 1373.8,2004.77 1373.8,2023.83 1391.05,2033.36" fill="#a444e2"/>
</g>
<line x1="1373.8" y1="2396.3" x2="1537.1" y2="2404.8" stroke="#000" stroke-width="8.8"/>
<rect x="1348.5" y="1990.9" width="585.5" height="532.7" fill="none" stroke="#b3b3b3" stroke-width="2.1"/>
<line x1="1373.8" y1="2523.6" x2="1373.8" y2="2535.1" stroke="#b3b3b3" stroke-width="1.9"/>
<text x="1373.8" y="2556.8" font-size="18.4" fill="#4d4d4d" text-anchor="middle">0</text>
<line x1="1509.95" y1="2523.6" x2="1509.95" y2="2535.1" stroke="#b3b3b3" stroke-width="1.9"/>
<text x="1509.95" y="2556.8" font-size="18.4" fill="#4d4d4d" text-anchor="middle">5</text>
<line x1="1646.1" y1="2523.6" x2="1646.1" y2="2535.1" stroke="#b3b3b3" stroke-width="1.9"/>
<text x="1646.1" y="2556.8" font-size="18.4" fill="#4d4d4d" text-anchor="middle">10</text>
<line x1="1782.25" y1="2523.6" x2="1782.25" y2="2535.1" stroke="#b3b3b3" stroke-width="1.9"/>
<text x="1782.25" y="2556.8" font-size="18.4" fill="#4d4d4d" text-anchor="middle">15</text>
<line x1="1918.4" y1="2523.6" x2="1918.4" y2="2535.1" stroke="#b3b3b3" stroke-width="1.9"/>
<text x="1918.4" y="2556.8" font-size="18.4" fill="#4d4d4d" text-anchor="middle">20</text>
<text x="1641.25" y="1969.7" font-size="27.08" fill="#4d4d4d" text-anchor="middle">England</text>
<line x1="119.5" y1="2500.5" x2="131" y2="2500.5" stroke="#b3b3b3" stroke-width="1.9"/>
<text x="110.4" y="2507.69" font-size="18.4" fill="#4d4d4d" text-anchor="end">0</text>
<line x1="119.5" y1="2405.15" x2="131" y2="2405.15" stroke="#b3b3b3" stroke-width="1.9"/>
<text x="110.4" y="2412.34" font-size="18.4" fill="#4d4d4d" text-anchor="end">5</text>
<line x1="119.5" y1="2309.8" x2="131" y2="2309.8" stroke="#b3b3b3" stroke-width="1.9"/>
<text x="110.4" y="2316.99" font-size="18.4" fill="#4d4d4d" text-anchor="end">10</text>
<line x1="119.5" y1="2214.45" x2="131" y2="2214.45" stroke="#b3b3b3" stroke-width="1.9"/>
<text x="110.4" y="2221.64" font-size="18.4" fill="#4d4d4d" text-anchor="end">15</text>
<line x1="119.5" y1="2119.1" x2="131" y2="2119.1" stroke="#b3b3b3" stroke-width="1.9"/>
<text x="110.4" y="2126.29" font-size="18.4" fill="#4d4d4d" text-anchor="end">20</text>
<line x1="119.5" y1="2023.75" x2="131" y2="2023.75" stroke="#b3b3b3" stroke-width="1.9"/>
<text x="110.4" y="2030.94" font-size="18.4" fill="#4d4d4d" text-anchor="end">25</text>
<text x="74.2" y="2257" font-size="23.0" fill="#000" text-anchor="middle" transform="rotate(-90 74.2 2257)">Pairwise SNP distance</text>
<text x="1032.5" y="2588.2" font-size="23.0" fill="#000" textLength="307.3" lengthAdjust="spacing" text-anchor="middle">Pairwise time distance (years)</text>
<text x="816.4" y="2696.8" font-size="23.0" fill="#000" textLength="239.6" lengthAdjust="spacing">Comparison Frequency</text>
<defs><linearGradient id="cg" x1="0" x2="1" y1="0" y2="0">
<stop offset="0%" stop-color="#a020f0"/>
<stop offset="5%" stop-color="#a338e8"/>
<stop offset="10%" stop-color="#a449e0"/>
<stop offset="15%" stop-color="#a657d8"/>
<stop offset="20%" stop-color="#a664d0"/>
<stop offset="25%" stop-color="#a670c7"/>
<stop offset="30%" stop-color="#a67bbf"/>
<stop offset="35%" stop-color="#a586b7"/>
<stop offset="40%" stop-color="#a390ae"/>
<stop offset="45%" stop-color="#a09aa5"/>
<stop offset="50%" stop-color="#9da49d"/>
<stop offset="55%" stop-color="#99ad93"/>
<stop offset="60%" stop-color="#94b78a"/>
<stop offset="65%" stop-color="#8ec080"/>
<stop offset="70%" stop-color="#87c976"/>
<stop offset="75%" stop-color="#7fd26b"/>
<stop offset="80%" stop-color="#74db5f"/>
<stop offset="85%" stop-color="#67e452"/>
<stop offset="90%" stop-color="#57ed42"/>
<stop offset="95%" stop-color="#3ff62d"/>
<stop offset="100%" stop-color="#00ff00"/>
</linearGradient></defs>
<rect x="1068.8" y="2655.9" width="179.6" height="35.9" fill="url(#cg)"/>
<line x1="1069.4" y1="2655.9" x2="1069.4" y2="2663.1" stroke="#fff" stroke-width="1.8"/>
<line x1="1069.4" y1="2684.6" x2="1069.4" y2="2691.8" stroke="#fff" stroke-width="1.8"/>
<line x1="1143" y1="2655.9" x2="1143" y2="2663.1" stroke="#fff" stroke-width="1.8"/>
<line x1="1143" y1="2684.6" x2="1143" y2="2691.8" stroke="#fff" stroke-width="1.8"/>
<line x1="1219.3" y1="2655.9" x2="1219.3" y2="2663.1" stroke="#fff" stroke-width="1.8"/>
<line x1="1219.3" y1="2684.6" x2="1219.3" y2="2691.8" stroke="#fff" stroke-width="1.8"/>
<text x="1068.6" y="2717.6" font-size="18.4" fill="#000" text-anchor="middle">1</text>
<text x="1143" y="2717.6" font-size="18.4" fill="#000" text-anchor="middle">30</text>
<text x="1219.2" y="2717.6" font-size="18.4" fill="#000" text-anchor="middle">1000</text>
</svg>
</body></html>
